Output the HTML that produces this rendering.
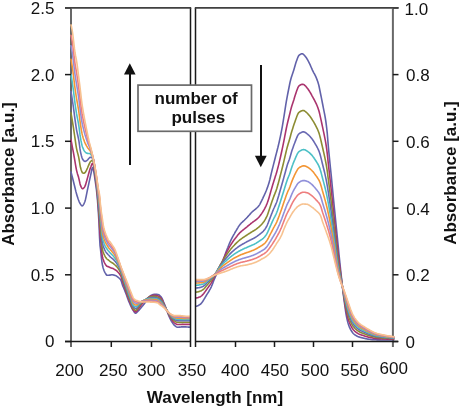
<!DOCTYPE html>
<html><head><meta charset="utf-8"><style>
html,body{margin:0;padding:0;background:#fff;}
body{width:461px;height:408px;overflow:hidden;font-family:"Liberation Sans",sans-serif;}
svg{display:block;will-change:transform;}
text{font-family:"Liberation Sans",sans-serif;}
</style></head><body>
<svg width="461" height="408" viewBox="0 0 461 408">
<g stroke="#686868" stroke-width="2" fill="none">
<path d="M71,8.5 V347"/>
<path d="M392.9,8.5 V347"/>
</g>
<g fill="none" stroke-width="1.6" stroke-linejoin="round" stroke-linecap="round">
<path d="M71.0,172.0 71.5,173.9 72.0,175.9 72.5,177.8 73.0,179.8 73.5,181.7 74.0,183.7 74.5,185.7 75.0,187.8 75.5,189.9 76.0,191.9 76.5,193.7 77.0,195.4 77.5,197.0 78.0,198.6 78.5,200.0 79.0,201.3 79.5,202.5 80.0,203.3 80.5,204.2 81.0,204.9 81.5,205.5 82.0,205.9 82.5,205.8 83.0,205.4 83.5,204.6 84.0,203.6 84.5,202.5 85.0,201.2 85.5,199.4 86.0,197.1 86.5,194.6 87.0,192.1 87.5,189.7 88.0,187.4 88.5,185.1 89.0,182.7 89.5,180.4 90.0,178.1 90.5,175.9 91.0,173.6 91.5,171.0 92.0,168.8 92.5,167.6 93.0,168.2 93.5,170.3 94.0,172.8 94.5,175.9 95.0,179.6 95.5,182.9 96.0,186.3 96.5,190.2 97.0,194.9 97.5,200.4 98.0,207.3 98.5,214.6 99.0,223.0 99.5,236.2 100.0,245.3 100.5,249.1 101.0,254.0 101.5,258.7 102.0,262.3 102.5,265.3 103.0,267.4 103.5,269.1 104.0,270.5 104.5,271.6 105.0,272.6 105.5,273.4 106.0,274.3 106.5,275.0 107.0,275.3 107.5,275.3 108.0,275.3 108.5,275.2 109.0,275.2 109.5,275.1 110.0,275.1 110.5,275.0 111.0,274.9 111.5,274.8 112.0,274.8 112.5,274.8 113.0,274.9 113.5,275.0 114.0,275.1 114.5,275.2 115.0,275.4 115.5,275.6 116.0,275.8 116.5,276.1 117.0,276.4 117.5,276.8 118.0,277.2 118.5,277.6 119.0,278.0 119.5,278.5 120.0,279.0 120.5,279.6 121.0,280.4 121.5,281.8 122.0,283.5 122.5,285.1 123.0,286.4 123.5,287.5 124.0,288.7 124.5,289.8 125.0,291.1 125.5,292.4 126.0,293.7 126.5,295.1 127.0,296.5 127.5,297.9 128.0,299.3 128.5,300.6 129.0,301.9 129.5,303.0 130.0,304.2 130.5,305.3 131.0,306.3 131.5,307.4 132.0,308.4 132.5,309.3 133.0,310.1 133.5,310.9 134.0,311.7 134.5,312.5 135.0,313.0 135.5,313.2 136.0,313.1 136.5,312.7 137.0,312.3 137.5,311.8 138.0,311.2 138.5,310.6 139.0,310.1 139.5,309.6 140.0,309.0 140.5,308.4 141.0,307.8 141.5,307.2 142.0,306.6 142.5,306.0 143.0,305.4 143.5,304.8 144.0,304.2 144.5,303.6 145.0,302.9 145.5,302.1 146.0,301.3 146.5,300.5 147.0,299.7 147.5,299.0 148.0,298.3 148.5,297.7 149.0,297.1 149.5,296.6 150.0,296.2 150.5,295.8 151.0,295.5 151.5,295.2 152.0,294.9 152.5,294.7 153.0,294.6 153.5,294.5 154.0,294.4 154.5,294.4 155.0,294.3 155.5,294.3 156.0,294.3 156.5,294.3 157.0,294.4 157.5,294.5 158.0,294.6 158.5,294.8 159.0,294.9 159.5,295.2 160.0,295.7 160.5,296.2 161.0,296.8 161.5,297.5 162.0,298.3 162.5,299.3 163.0,300.5 163.5,301.8 164.0,303.0 164.5,304.2 165.0,305.6 165.5,306.9 166.0,308.3 166.5,309.7 167.0,311.0 167.5,312.3 168.0,313.6 168.5,314.9 169.0,316.1 169.5,317.3 170.0,318.4 170.5,319.4 171.0,320.4 171.5,321.3 172.0,322.1 172.5,322.9 173.0,323.6 173.5,324.3 174.0,324.9 174.5,325.4 175.0,325.8 175.5,326.2 176.0,326.6 176.5,326.9 177.0,327.1 177.5,327.2 178.0,327.2 178.5,327.2 179.0,327.1 179.5,327.1 180.0,327.1 180.5,327.0 181.0,327.0 181.5,326.9 182.0,326.9 182.5,326.9 183.0,326.9 183.5,326.9 184.0,326.9 184.5,326.9 185.0,326.9 185.5,326.9 186.0,326.9 186.5,327.0 187.0,327.0 187.5,327.0 188.0,327.0 188.5,327.1 189.0,327.1 189.5,327.1 190.0,327.2" stroke="#6262aa"/>
<path d="M71.0,139.8 71.5,142.4 72.0,145.1 72.5,147.8 73.0,150.3 73.5,152.9 74.0,155.8 74.5,158.7 75.0,161.6 75.5,164.6 76.0,167.5 76.5,170.1 77.0,172.1 77.5,173.9 78.0,175.5 78.5,177.1 79.0,179.1 79.5,181.4 80.0,183.7 80.5,185.4 81.0,186.7 81.5,187.6 82.0,188.4 82.5,188.7 83.0,188.6 83.5,188.3 84.0,187.8 84.5,187.1 85.0,186.2 85.5,184.9 86.0,183.3 86.5,181.6 87.0,179.7 87.5,177.9 88.0,176.1 88.5,174.3 89.0,172.5 89.5,170.8 90.0,169.1 90.5,167.8 91.0,166.5 91.5,165.1 92.0,163.8 92.5,163.4 93.0,164.0 93.5,165.6 94.0,168.1 94.5,171.7 95.0,175.7 95.5,179.2 96.0,182.7 96.5,186.5 97.0,191.0 97.5,196.3 98.0,202.4 98.5,208.8 99.0,216.0 99.5,226.0 100.0,233.7 100.5,238.1 101.0,243.0 101.5,248.4 102.0,254.3 102.5,257.3 103.0,259.0 103.5,260.3 104.0,261.6 104.5,262.8 105.0,263.7 105.5,264.5 106.0,265.2 106.5,265.9 107.0,266.3 107.5,266.5 108.0,266.6 108.5,266.8 109.0,267.1 109.5,267.3 110.0,267.6 110.5,267.8 111.0,267.9 111.5,268.1 112.0,268.2 112.5,268.3 113.0,268.5 113.5,268.8 114.0,269.1 114.5,269.4 115.0,269.7 115.5,270.0 116.0,270.3 116.5,270.7 117.0,271.1 117.5,271.6 118.0,272.2 118.5,272.7 119.0,273.3 119.5,274.0 120.0,274.7 120.5,275.5 121.0,276.5 121.5,278.0 122.0,279.7 122.5,281.3 123.0,282.8 123.5,284.3 124.0,285.7 124.5,287.1 125.0,288.5 125.5,290.0 126.0,291.5 126.5,293.0 127.0,294.5 127.5,295.9 128.0,297.3 128.5,298.7 129.0,300.0 129.5,301.2 130.0,302.5 130.5,303.7 131.0,304.9 131.5,306.2 132.0,307.5 132.5,308.6 133.0,309.6 133.5,310.2 134.0,310.8 134.5,311.4 135.0,311.8 135.5,311.9 136.0,311.8 136.5,311.5 137.0,310.9 137.5,310.2 138.0,309.4 138.5,308.7 139.0,308.0 139.5,307.4 140.0,306.7 140.5,306.0 141.0,305.3 141.5,304.7 142.0,304.1 142.5,303.5 143.0,303.0 143.5,302.5 144.0,302.0 144.5,301.5 145.0,301.0 145.5,300.5 146.0,299.9 146.5,299.3 147.0,298.8 147.5,298.3 148.0,297.8 148.5,297.4 149.0,297.0 149.5,296.6 150.0,296.4 150.5,296.2 151.0,296.0 151.5,295.8 152.0,295.7 152.5,295.5 153.0,295.5 153.5,295.4 154.0,295.4 154.5,295.3 155.0,295.3 155.5,295.4 156.0,295.4 156.5,295.5 157.0,295.7 157.5,295.8 158.0,296.0 158.5,296.1 159.0,296.4 159.5,296.7 160.0,297.2 160.5,297.7 161.0,298.3 161.5,299.0 162.0,299.8 162.5,300.7 163.0,301.8 163.5,302.9 164.0,303.9 164.5,305.0 165.0,306.1 165.5,307.3 166.0,308.4 166.5,309.6 167.0,310.7 167.5,311.8 168.0,312.9 168.5,313.9 169.0,315.0 169.5,315.9 170.0,316.9 170.5,317.7 171.0,318.6 171.5,319.4 172.0,320.1 172.5,320.8 173.0,321.4 173.5,322.0 174.0,322.5 174.5,322.9 175.0,323.3 175.5,323.6 176.0,324.0 176.5,324.2 177.0,324.4 177.5,324.5 178.0,324.5 178.5,324.5 179.0,324.5 179.5,324.5 180.0,324.5 180.5,324.5 181.0,324.5 181.5,324.5 182.0,324.4 182.5,324.4 183.0,324.4 183.5,324.4 184.0,324.4 184.5,324.4 185.0,324.4 185.5,324.4 186.0,324.4 186.5,324.4 187.0,324.4 187.5,324.4 188.0,324.4 188.5,324.4 189.0,324.4 189.5,324.4 190.0,324.4" stroke="#aa346e"/>
<path d="M71.0,112.9 71.5,115.9 72.0,118.9 72.5,122.0 73.0,125.0 73.5,128.1 74.0,131.6 74.5,135.0 75.0,138.4 75.5,141.9 76.0,145.3 76.5,148.3 77.0,150.6 77.5,152.6 78.0,154.4 78.5,156.4 79.0,158.8 79.5,161.9 80.0,165.1 80.5,167.6 81.0,169.3 81.5,170.8 82.0,172.0 82.5,172.8 83.0,173.1 83.5,173.3 84.0,173.3 84.5,173.1 85.0,172.7 85.5,172.1 86.0,171.2 86.5,170.2 87.0,169.1 87.5,168.0 88.0,166.8 88.5,165.6 89.0,164.4 89.5,163.3 90.0,162.3 90.5,161.6 91.0,161.2 91.5,160.7 92.0,160.3 92.5,160.4 93.0,161.2 93.5,162.6 94.0,165.1 94.5,168.8 95.0,172.8 95.5,176.4 96.0,179.9 96.5,183.6 97.0,187.9 97.5,193.0 98.0,198.5 98.5,204.0 99.0,210.2 99.5,218.0 100.0,224.7 100.5,229.4 101.0,234.2 101.5,239.9 102.0,246.8 102.5,249.8 103.0,251.5 103.5,252.8 104.0,254.1 104.5,255.3 105.0,256.2 105.5,257.1 106.0,257.8 106.5,258.5 107.0,259.0 107.5,259.4 108.0,259.7 108.5,260.1 109.0,260.5 109.5,261.0 110.0,261.4 110.5,261.8 111.0,262.1 111.5,262.4 112.0,262.7 112.5,263.0 113.0,263.3 113.5,263.6 114.0,264.1 114.5,264.5 115.0,265.0 115.5,265.4 116.0,265.9 116.5,266.4 117.0,266.9 117.5,267.6 118.0,268.2 118.5,269.0 119.0,269.7 119.5,270.6 120.0,271.5 120.5,272.5 121.0,273.7 121.5,275.1 122.0,276.7 122.5,278.4 123.0,280.0 123.5,281.6 124.0,283.1 124.5,284.6 125.0,286.2 125.5,287.7 126.0,289.3 126.5,290.8 127.0,292.3 127.5,293.8 128.0,295.2 128.5,296.6 129.0,297.9 129.5,299.2 130.0,300.5 130.5,301.8 131.0,303.1 131.5,304.6 132.0,306.0 132.5,307.2 133.0,308.2 133.5,308.9 134.0,309.3 134.5,309.8 135.0,310.1 135.5,310.2 136.0,310.2 136.5,309.9 137.0,309.3 137.5,308.6 138.0,307.8 138.5,307.0 139.0,306.3 139.5,305.7 140.0,305.0 140.5,304.3 141.0,303.7 141.5,303.1 142.0,302.5 142.5,302.0 143.0,301.6 143.5,301.2 144.0,300.8 144.5,300.4 145.0,300.0 145.5,299.7 146.0,299.3 146.5,298.9 147.0,298.5 147.5,298.2 148.0,297.9 148.5,297.6 149.0,297.3 149.5,297.1 150.0,297.0 150.5,296.9 151.0,296.8 151.5,296.7 152.0,296.6 152.5,296.5 153.0,296.5 153.5,296.5 154.0,296.4 154.5,296.4 155.0,296.5 155.5,296.5 156.0,296.6 156.5,296.8 157.0,296.9 157.5,297.1 158.0,297.3 158.5,297.5 159.0,297.7 159.5,298.1 160.0,298.6 160.5,299.1 161.0,299.7 161.5,300.4 162.0,301.1 162.5,302.0 163.0,302.9 163.5,303.8 164.0,304.8 164.5,305.7 165.0,306.6 165.5,307.6 166.0,308.6 166.5,309.6 167.0,310.5 167.5,311.4 168.0,312.4 168.5,313.3 169.0,314.1 169.5,315.0 170.0,315.8 170.5,316.5 171.0,317.3 171.5,318.0 172.0,318.6 172.5,319.2 173.0,319.7 173.5,320.1 174.0,320.5 174.5,320.9 175.0,321.3 175.5,321.6 176.0,321.9 176.5,322.1 177.0,322.2 177.5,322.3 178.0,322.3 178.5,322.3 179.0,322.4 179.5,322.4 180.0,322.4 180.5,322.4 181.0,322.4 181.5,322.4 182.0,322.4 182.5,322.4 183.0,322.4 183.5,322.3 184.0,322.3 184.5,322.3 185.0,322.3 185.5,322.3 186.0,322.3 186.5,322.3 187.0,322.3 187.5,322.3 188.0,322.3 188.5,322.3 189.0,322.3 189.5,322.3 190.0,322.3" stroke="#8c8c32"/>
<path d="M71.0,91.6 71.5,94.7 72.0,97.9 72.5,101.2 73.0,104.5 73.5,107.9 74.0,111.7 74.5,115.6 75.0,119.3 75.5,122.9 76.0,126.4 76.5,129.6 77.0,132.1 77.5,134.3 78.0,136.5 78.5,138.8 79.0,141.6 79.5,145.2 80.0,148.9 80.5,151.8 81.0,154.1 81.5,156.0 82.0,157.7 82.5,159.0 83.0,159.8 83.5,160.4 84.0,160.9 84.5,161.3 85.0,161.4 85.5,161.4 86.0,161.1 86.5,160.8 87.0,160.4 87.5,160.0 88.0,159.4 88.5,158.8 89.0,158.3 89.5,157.7 90.0,157.3 90.5,157.3 91.0,157.4 91.5,157.6 92.0,157.8 92.5,158.4 93.0,159.4 93.5,160.9 94.0,163.4 94.5,167.0 95.0,170.9 95.5,174.4 96.0,177.9 96.5,181.5 97.0,185.7 97.5,190.4 98.0,195.4 98.5,200.4 99.0,205.7 99.5,211.8 100.0,217.9 100.5,223.0 101.0,227.7 101.5,233.3 102.0,240.4 102.5,243.4 103.0,245.3 103.5,246.7 104.0,248.1 104.5,249.3 105.0,250.4 105.5,251.3 106.0,252.1 106.5,252.8 107.0,253.4 107.5,253.9 108.0,254.5 108.5,255.0 109.0,255.5 109.5,256.1 110.0,256.6 110.5,257.1 111.0,257.5 111.5,257.9 112.0,258.3 112.5,258.7 113.0,259.1 113.5,259.6 114.0,260.1 114.5,260.7 115.0,261.2 115.5,261.8 116.0,262.4 116.5,263.1 117.0,263.8 117.5,264.5 118.0,265.4 118.5,266.2 119.0,267.2 119.5,268.2 120.0,269.2 120.5,270.4 121.0,271.6 121.5,273.0 122.0,274.6 122.5,276.2 123.0,277.9 123.5,279.5 124.0,281.1 124.5,282.6 125.0,284.2 125.5,285.7 126.0,287.3 126.5,288.8 127.0,290.3 127.5,291.8 128.0,293.2 128.5,294.6 129.0,295.9 129.5,297.2 130.0,298.5 130.5,299.8 131.0,301.2 131.5,302.7 132.0,304.2 132.5,305.5 133.0,306.6 133.5,307.2 134.0,307.6 134.5,308.0 135.0,308.3 135.5,308.5 136.0,308.5 136.5,308.3 137.0,307.8 137.5,307.1 138.0,306.4 138.5,305.6 139.0,305.0 139.5,304.4 140.0,303.9 140.5,303.3 141.0,302.7 141.5,302.2 142.0,301.7 142.5,301.3 143.0,300.9 143.5,300.6 144.0,300.3 144.5,300.0 145.0,299.7 145.5,299.5 146.0,299.2 146.5,299.0 147.0,298.7 147.5,298.5 148.0,298.3 148.5,298.1 149.0,297.9 149.5,297.8 150.0,297.7 150.5,297.7 151.0,297.6 151.5,297.6 152.0,297.6 152.5,297.5 153.0,297.5 153.5,297.5 154.0,297.5 154.5,297.5 155.0,297.6 155.5,297.6 156.0,297.8 156.5,297.9 157.0,298.1 157.5,298.3 158.0,298.5 158.5,298.7 159.0,299.0 159.5,299.4 160.0,299.9 160.5,300.4 161.0,300.9 161.5,301.5 162.0,302.2 162.5,303.0 163.0,303.8 163.5,304.6 164.0,305.4 164.5,306.2 165.0,307.1 165.5,308.0 166.0,308.8 166.5,309.7 167.0,310.5 167.5,311.3 168.0,312.1 168.5,312.9 169.0,313.6 169.5,314.3 170.0,315.0 170.5,315.7 171.0,316.3 171.5,317.0 172.0,317.5 172.5,318.0 173.0,318.4 173.5,318.8 174.0,319.1 174.5,319.5 175.0,319.8 175.5,320.0 176.0,320.3 176.5,320.4 177.0,320.5 177.5,320.6 178.0,320.6 178.5,320.7 179.0,320.7 179.5,320.7 180.0,320.8 180.5,320.8 181.0,320.8 181.5,320.8 182.0,320.8 182.5,320.8 183.0,320.8 183.5,320.8 184.0,320.7 184.5,320.7 185.0,320.7 185.5,320.7 186.0,320.7 186.5,320.7 187.0,320.7 187.5,320.7 188.0,320.7 188.5,320.7 189.0,320.7 189.5,320.7 190.0,320.7" stroke="#6868b2"/>
<path d="M71.0,74.5 71.5,77.5 72.0,80.6 72.5,84.0 73.0,87.5 73.5,91.2 74.0,95.2 74.5,99.3 75.0,103.1 75.5,106.8 76.0,110.2 76.5,113.4 77.0,116.1 77.5,118.6 78.0,121.1 78.5,123.7 79.0,126.8 79.5,130.7 80.0,134.7 80.5,138.0 81.0,140.7 81.5,143.1 82.0,145.3 82.5,147.0 83.0,148.2 83.5,149.3 84.0,150.3 84.5,151.2 85.0,151.8 85.5,152.3 86.0,152.7 86.5,153.0 87.0,153.3 87.5,153.4 88.0,153.5 88.5,153.5 89.0,153.5 89.5,153.5 90.0,153.6 90.5,154.0 91.0,154.7 91.5,155.4 92.0,156.1 92.5,157.1 93.0,158.4 93.5,160.0 94.0,162.5 94.5,165.9 95.0,169.6 95.5,173.0 96.0,176.4 96.5,180.0 97.0,184.0 97.5,188.4 98.0,193.0 98.5,197.5 99.0,202.1 99.5,207.1 100.0,212.6 100.5,218.0 101.0,222.7 101.5,228.0 102.0,234.8 102.5,237.9 103.0,240.0 103.5,241.7 104.0,243.2 104.5,244.5 105.0,245.6 105.5,246.6 106.0,247.5 106.5,248.3 107.0,249.0 107.5,249.7 108.0,250.4 108.5,251.0 109.0,251.6 109.5,252.2 110.0,252.7 110.5,253.3 111.0,253.8 111.5,254.3 112.0,254.8 112.5,255.3 113.0,255.8 113.5,256.3 114.0,256.9 114.5,257.6 115.0,258.2 115.5,259.0 116.0,259.7 116.5,260.5 117.0,261.4 117.5,262.3 118.0,263.2 118.5,264.2 119.0,265.3 119.5,266.4 120.0,267.6 120.5,268.8 121.0,270.1 121.5,271.5 122.0,273.0 122.5,274.6 123.0,276.2 123.5,277.8 124.0,279.4 124.5,280.9 125.0,282.4 125.5,284.0 126.0,285.5 126.5,287.0 127.0,288.5 127.5,289.9 128.0,291.3 128.5,292.7 129.0,294.1 129.5,295.4 130.0,296.7 130.5,298.0 131.0,299.4 131.5,300.9 132.0,302.4 132.5,303.8 133.0,304.8 133.5,305.5 134.0,305.9 134.5,306.3 135.0,306.5 135.5,306.7 136.0,306.8 136.5,306.7 137.0,306.3 137.5,305.7 138.0,305.1 138.5,304.5 139.0,304.0 139.5,303.5 140.0,303.1 140.5,302.6 141.0,302.1 141.5,301.7 142.0,301.3 142.5,301.0 143.0,300.7 143.5,300.5 144.0,300.2 144.5,300.0 145.0,299.8 145.5,299.7 146.0,299.5 146.5,299.3 147.0,299.2 147.5,299.0 148.0,298.8 148.5,298.7 149.0,298.6 149.5,298.5 150.0,298.5 150.5,298.5 151.0,298.5 151.5,298.5 152.0,298.5 152.5,298.5 153.0,298.5 153.5,298.5 154.0,298.5 154.5,298.5 155.0,298.6 155.5,298.7 156.0,298.8 156.5,299.0 157.0,299.1 157.5,299.3 158.0,299.5 158.5,299.8 159.0,300.1 159.5,300.5 160.0,301.0 160.5,301.5 161.0,302.0 161.5,302.6 162.0,303.2 162.5,303.9 163.0,304.6 163.5,305.3 164.0,306.0 164.5,306.7 165.0,307.5 165.5,308.2 166.0,309.0 166.5,309.8 167.0,310.5 167.5,311.2 168.0,311.9 168.5,312.6 169.0,313.3 169.5,313.9 170.0,314.5 170.5,315.1 171.0,315.7 171.5,316.2 172.0,316.7 172.5,317.1 173.0,317.5 173.5,317.8 174.0,318.1 174.5,318.4 175.0,318.6 175.5,318.8 176.0,319.0 176.5,319.1 177.0,319.2 177.5,319.2 178.0,319.3 178.5,319.3 179.0,319.4 179.5,319.4 180.0,319.4 180.5,319.4 181.0,319.5 181.5,319.5 182.0,319.5 182.5,319.5 183.0,319.5 183.5,319.5 184.0,319.5 184.5,319.5 185.0,319.5 185.5,319.5 186.0,319.5 186.5,319.5 187.0,319.5 187.5,319.5 188.0,319.5 188.5,319.5 189.0,319.5 189.5,319.5 190.0,319.5" stroke="#4cc0c6"/>
<path d="M71.0,59.2 71.5,62.0 72.0,65.1 72.5,68.4 73.0,72.0 73.5,75.9 74.0,80.1 74.5,84.3 75.0,88.2 75.5,91.7 76.0,95.0 76.5,98.1 77.0,101.0 77.5,103.8 78.0,106.6 78.5,109.6 79.0,113.0 79.5,117.0 80.0,121.1 80.5,124.7 81.0,127.9 81.5,130.8 82.0,133.4 82.5,135.5 83.0,137.3 83.5,138.9 84.0,140.3 84.5,141.7 85.0,142.9 85.5,144.0 86.0,144.9 86.5,145.9 87.0,146.7 87.5,147.5 88.0,148.2 88.5,148.8 89.0,149.4 89.5,150.0 90.0,150.6 90.5,151.4 91.0,152.5 91.5,153.6 92.0,154.8 92.5,156.2 93.0,157.8 93.5,159.6 94.0,162.0 94.5,165.2 95.0,168.6 95.5,171.9 96.0,175.2 96.5,178.7 97.0,182.5 97.5,186.7 98.0,190.9 98.5,194.9 99.0,198.9 99.5,203.0 100.0,208.2 100.5,213.8 101.0,218.4 101.5,223.4 102.0,229.5 102.5,232.6 103.0,235.1 103.5,237.1 104.0,238.8 104.5,240.1 105.0,241.3 105.5,242.4 106.0,243.4 106.5,244.3 107.0,245.2 107.5,246.0 108.0,246.8 108.5,247.5 109.0,248.2 109.5,248.8 110.0,249.3 110.5,249.9 111.0,250.5 111.5,251.1 112.0,251.7 112.5,252.3 113.0,252.8 113.5,253.4 114.0,254.1 114.5,254.8 115.0,255.6 115.5,256.4 116.0,257.4 116.5,258.3 117.0,259.3 117.5,260.3 118.0,261.4 118.5,262.6 119.0,263.8 119.5,265.0 120.0,266.3 120.5,267.6 121.0,268.9 121.5,270.3 122.0,271.7 122.5,273.3 123.0,274.8 123.5,276.3 124.0,277.9 124.5,279.3 125.0,280.8 125.5,282.3 126.0,283.8 126.5,285.2 127.0,286.6 127.5,288.1 128.0,289.4 128.5,290.8 129.0,292.2 129.5,293.5 130.0,294.8 130.5,296.1 131.0,297.5 131.5,299.0 132.0,300.5 132.5,301.8 133.0,302.9 133.5,303.6 134.0,304.1 134.5,304.4 135.0,304.7 135.5,304.9 136.0,305.1 136.5,305.0 137.0,304.8 137.5,304.4 138.0,303.9 138.5,303.5 139.0,303.1 139.5,302.8 140.0,302.5 140.5,302.1 141.0,301.8 141.5,301.5 142.0,301.2 142.5,301.0 143.0,300.8 143.5,300.6 144.0,300.5 144.5,300.3 145.0,300.2 145.5,300.1 146.0,300.0 146.5,299.9 147.0,299.8 147.5,299.7 148.0,299.6 148.5,299.5 149.0,299.4 149.5,299.4 150.0,299.4 150.5,299.4 151.0,299.4 151.5,299.5 152.0,299.5 152.5,299.5 153.0,299.5 153.5,299.5 154.0,299.5 154.5,299.5 155.0,299.6 155.5,299.7 156.0,299.8 156.5,300.0 157.0,300.1 157.5,300.3 158.0,300.5 158.5,300.8 159.0,301.2 159.5,301.6 160.0,302.1 160.5,302.5 161.0,303.0 161.5,303.5 162.0,304.0 162.5,304.6 163.0,305.3 163.5,305.9 164.0,306.5 164.5,307.2 165.0,307.9 165.5,308.5 166.0,309.2 166.5,309.9 167.0,310.6 167.5,311.2 168.0,311.8 168.5,312.4 169.0,313.0 169.5,313.6 170.0,314.1 170.5,314.6 171.0,315.1 171.5,315.6 172.0,316.0 172.5,316.4 173.0,316.7 173.5,317.0 174.0,317.2 174.5,317.4 175.0,317.6 175.5,317.8 176.0,317.9 176.5,318.0 177.0,318.1 177.5,318.1 178.0,318.1 178.5,318.2 179.0,318.2 179.5,318.2 180.0,318.2 180.5,318.3 181.0,318.3 181.5,318.3 182.0,318.3 182.5,318.4 183.0,318.4 183.5,318.4 184.0,318.4 184.5,318.4 185.0,318.4 185.5,318.4 186.0,318.4 186.5,318.4 187.0,318.5 187.5,318.5 188.0,318.5 188.5,318.5 189.0,318.5 189.5,318.5 190.0,318.5" stroke="#f39634"/>
<path d="M71.0,45.7 71.5,48.3 72.0,51.2 72.5,54.4 73.0,58.1 73.5,62.1 74.0,66.4 74.5,70.7 75.0,74.5 75.5,77.9 76.0,80.9 76.5,83.9 77.0,86.9 77.5,90.0 78.0,93.2 78.5,96.6 79.0,100.2 79.5,104.2 80.0,108.4 80.5,112.2 81.0,115.8 81.5,119.3 82.0,122.3 82.5,124.9 83.0,127.1 83.5,129.1 84.0,131.1 84.5,132.9 85.0,134.7 85.5,136.3 86.0,137.8 86.5,139.4 87.0,140.8 87.5,142.3 88.0,143.6 88.5,144.8 89.0,146.0 89.5,147.0 90.0,148.1 90.5,149.4 91.0,150.8 91.5,152.3 92.0,153.9 92.5,155.6 93.0,157.5 93.5,159.5 94.0,161.9 94.5,164.8 95.0,167.9 95.5,171.0 96.0,174.2 96.5,177.7 97.0,181.3 97.5,185.2 98.0,189.1 98.5,192.7 99.0,196.1 99.5,199.5 100.0,204.4 100.5,210.3 101.0,214.9 101.5,219.3 102.0,224.5 102.5,227.7 103.0,230.6 103.5,233.0 104.0,234.8 104.5,236.3 105.0,237.6 105.5,238.8 106.0,239.9 106.5,240.9 107.0,241.9 107.5,242.9 108.0,243.8 108.5,244.6 109.0,245.2 109.5,245.8 110.0,246.4 110.5,247.0 111.0,247.6 111.5,248.3 112.0,248.9 112.5,249.6 113.0,250.2 113.5,250.9 114.0,251.6 114.5,252.4 115.0,253.2 115.5,254.2 116.0,255.3 116.5,256.4 117.0,257.6 117.5,258.7 118.0,260.0 118.5,261.2 119.0,262.6 119.5,263.9 120.0,265.3 120.5,266.6 121.0,268.0 121.5,269.3 122.0,270.7 122.5,272.1 123.0,273.6 123.5,275.0 124.0,276.5 124.5,277.9 125.0,279.3 125.5,280.7 126.0,282.1 126.5,283.5 127.0,284.9 127.5,286.3 128.0,287.6 128.5,289.0 129.0,290.3 129.5,291.7 130.0,293.0 130.5,294.3 131.0,295.6 131.5,297.1 132.0,298.5 132.5,299.8 133.0,300.9 133.5,301.7 134.0,302.2 134.5,302.6 135.0,302.9 135.5,303.1 136.0,303.3 136.5,303.4 137.0,303.3 137.5,303.1 138.0,302.8 138.5,302.6 139.0,302.4 139.5,302.2 140.0,302.0 140.5,301.8 141.0,301.7 141.5,301.5 142.0,301.3 142.5,301.2 143.0,301.1 143.5,301.0 144.0,300.9 144.5,300.8 145.0,300.7 145.5,300.7 146.0,300.6 146.5,300.6 147.0,300.5 147.5,300.4 148.0,300.4 148.5,300.3 149.0,300.3 149.5,300.3 150.0,300.3 150.5,300.3 151.0,300.4 151.5,300.4 152.0,300.4 152.5,300.5 153.0,300.5 153.5,300.5 154.0,300.5 154.5,300.6 155.0,300.6 155.5,300.7 156.0,300.8 156.5,300.9 157.0,301.1 157.5,301.2 158.0,301.4 158.5,301.8 159.0,302.2 159.5,302.6 160.0,303.1 160.5,303.5 161.0,303.9 161.5,304.4 162.0,304.8 162.5,305.4 163.0,305.9 163.5,306.4 164.0,307.0 164.5,307.6 165.0,308.2 165.5,308.8 166.0,309.4 166.5,310.0 167.0,310.6 167.5,311.2 168.0,311.8 168.5,312.4 169.0,312.9 169.5,313.4 170.0,313.8 170.5,314.3 171.0,314.7 171.5,315.1 172.0,315.5 172.5,315.8 173.0,316.1 173.5,316.3 174.0,316.5 174.5,316.7 175.0,316.8 175.5,316.9 176.0,317.0 176.5,317.0 177.0,317.1 177.5,317.1 178.0,317.1 178.5,317.1 179.0,317.2 179.5,317.2 180.0,317.2 180.5,317.2 181.0,317.3 181.5,317.3 182.0,317.3 182.5,317.4 183.0,317.4 183.5,317.4 184.0,317.5 184.5,317.5 185.0,317.5 185.5,317.5 186.0,317.5 186.5,317.6 187.0,317.6 187.5,317.6 188.0,317.6 188.5,317.6 189.0,317.6 189.5,317.6 190.0,317.6" stroke="#9090da"/>
<path d="M71.0,35.2 71.5,37.5 72.0,40.2 72.5,43.3 73.0,47.0 73.5,51.2 74.0,55.5 74.5,59.8 75.0,63.6 75.5,66.7 76.0,69.5 76.5,72.3 77.0,75.4 77.5,78.8 78.0,82.4 78.5,86.0 79.0,89.8 79.5,93.8 80.0,98.0 80.5,101.9 81.0,105.9 81.5,109.8 82.0,113.2 82.5,116.1 83.0,118.7 83.5,121.2 84.0,123.5 84.5,125.8 85.0,128.0 85.5,130.1 86.0,132.2 86.5,134.2 87.0,136.2 87.5,138.1 88.0,140.0 88.5,141.7 89.0,143.4 89.5,144.9 90.0,146.3 90.5,147.9 91.0,149.6 91.5,151.4 92.0,153.3 92.5,155.3 93.0,157.5 93.5,159.6 94.0,162.0 94.5,164.7 95.0,167.5 95.5,170.3 96.0,173.5 96.5,176.9 97.0,180.4 97.5,184.1 98.0,187.7 98.5,191.0 99.0,193.9 99.5,196.8 100.0,201.7 100.5,207.7 101.0,212.2 101.5,216.2 102.0,220.4 102.5,223.6 103.0,226.9 103.5,229.7 104.0,231.7 104.5,233.3 105.0,234.7 105.5,236.0 106.0,237.2 106.5,238.3 107.0,239.4 107.5,240.5 108.0,241.5 108.5,242.3 109.0,243.0 109.5,243.5 110.0,244.0 110.5,244.7 111.0,245.4 111.5,246.1 112.0,246.8 112.5,247.5 113.0,248.2 113.5,248.9 114.0,249.6 114.5,250.5 115.0,251.4 115.5,252.5 116.0,253.7 116.5,255.0 117.0,256.3 117.5,257.6 118.0,258.9 118.5,260.3 119.0,261.7 119.5,263.1 120.0,264.6 120.5,266.0 121.0,267.3 121.5,268.7 122.0,270.0 122.5,271.3 123.0,272.7 123.5,274.0 124.0,275.4 124.5,276.7 125.0,278.1 125.5,279.4 126.0,280.7 126.5,282.1 127.0,283.4 127.5,284.7 128.0,286.1 128.5,287.4 129.0,288.8 129.5,290.1 130.0,291.4 130.5,292.7 131.0,294.0 131.5,295.4 132.0,296.8 132.5,298.1 133.0,299.2 133.5,300.0 134.0,300.6 134.5,300.9 135.0,301.3 135.5,301.6 136.0,301.8 136.5,301.9 137.0,302.0 137.5,302.0 138.0,301.9 138.5,301.9 139.0,301.8 139.5,301.8 140.0,301.7 140.5,301.7 141.0,301.7 141.5,301.6 142.0,301.6 142.5,301.5 143.0,301.5 143.5,301.4 144.0,301.4 144.5,301.3 145.0,301.3 145.5,301.3 146.0,301.2 146.5,301.2 147.0,301.2 147.5,301.2 148.0,301.1 148.5,301.1 149.0,301.1 149.5,301.1 150.0,301.1 150.5,301.2 151.0,301.2 151.5,301.2 152.0,301.3 152.5,301.3 153.0,301.3 153.5,301.3 154.0,301.4 154.5,301.4 155.0,301.5 155.5,301.6 156.0,301.6 156.5,301.7 157.0,301.9 157.5,302.0 158.0,302.2 158.5,302.6 159.0,303.0 159.5,303.5 160.0,303.9 160.5,304.3 161.0,304.7 161.5,305.1 162.0,305.5 162.5,305.9 163.0,306.4 163.5,306.9 164.0,307.4 164.5,307.9 165.0,308.5 165.5,309.1 166.0,309.6 166.5,310.2 167.0,310.7 167.5,311.3 168.0,311.8 168.5,312.3 169.0,312.8 169.5,313.2 170.0,313.7 170.5,314.0 171.0,314.4 171.5,314.8 172.0,315.1 172.5,315.3 173.0,315.6 173.5,315.8 174.0,316.0 174.5,316.1 175.0,316.2 175.5,316.2 176.0,316.3 176.5,316.3 177.0,316.3 177.5,316.3 178.0,316.3 178.5,316.4 179.0,316.4 179.5,316.4 180.0,316.4 180.5,316.4 181.0,316.5 181.5,316.5 182.0,316.6 182.5,316.6 183.0,316.7 183.5,316.7 184.0,316.8 184.5,316.8 185.0,316.8 185.5,316.8 186.0,316.9 186.5,316.9 187.0,316.9 187.5,316.9 188.0,316.9 188.5,316.9 189.0,317.0 189.5,317.0 190.0,317.0" stroke="#ee7e7e"/>
<path d="M71.0,24.9 71.5,26.8 72.0,29.4 72.5,32.3 73.0,36.0 73.5,40.3 74.0,44.6 74.5,48.9 75.0,52.5 75.5,55.4 76.0,57.9 76.5,60.5 77.0,63.7 77.5,67.4 78.0,71.3 78.5,75.3 79.0,79.3 79.5,83.2 80.0,87.2 80.5,91.3 81.0,95.7 81.5,100.1 82.0,103.9 82.5,107.2 83.0,110.2 83.5,113.1 84.0,115.8 84.5,118.6 85.0,121.3 85.5,123.9 86.0,126.5 86.5,129.0 87.0,131.5 87.5,134.0 88.0,136.4 88.5,138.8 89.0,140.9 89.5,142.9 90.0,144.7 90.5,146.6 91.0,148.5 91.5,150.6 92.0,152.8 92.5,155.1 93.0,157.6 93.5,160.0 94.0,162.3 94.5,164.7 95.0,167.1 95.5,169.8 96.0,172.9 96.5,176.2 97.0,179.6 97.5,183.0 98.0,186.3 98.5,189.4 99.0,191.8 99.5,194.3 100.0,199.0 100.5,205.3 101.0,209.7 101.5,213.2 102.0,216.3 102.5,219.5 103.0,223.3 103.5,226.5 104.0,228.6 104.5,230.3 105.0,231.8 105.5,233.2 106.0,234.6 106.5,235.8 107.0,237.0 107.5,238.2 108.0,239.3 108.5,240.2 109.0,240.8 109.5,241.3 110.0,241.8 110.5,242.4 111.0,243.2 111.5,243.9 112.0,244.7 112.5,245.4 113.0,246.2 113.5,246.9 114.0,247.7 114.5,248.6 115.0,249.6 115.5,250.8 116.0,252.2 116.5,253.6 117.0,255.1 117.5,256.5 118.0,257.9 118.5,259.4 119.0,260.9 119.5,262.4 120.0,263.9 120.5,265.4 121.0,266.7 121.5,268.1 122.0,269.3 122.5,270.6 123.0,271.8 123.5,273.1 124.0,274.3 124.5,275.6 125.0,276.8 125.5,278.1 126.0,279.3 126.5,280.6 127.0,281.9 127.5,283.1 128.0,284.4 128.5,285.8 129.0,287.1 129.5,288.5 130.0,289.8 130.5,291.0 131.0,292.3 131.5,293.6 132.0,294.9 132.5,296.1 133.0,297.3 133.5,298.2 134.0,298.8 134.5,299.2 135.0,299.6 135.5,299.9 136.0,300.2 136.5,300.4 137.0,300.6 137.5,300.8 138.0,301.0 138.5,301.1 139.0,301.3 139.5,301.4 140.0,301.5 140.5,301.6 141.0,301.7 141.5,301.8 142.0,301.9 142.5,302.0 143.0,302.0 143.5,302.0 144.0,302.0 144.5,302.0 145.0,302.0 145.5,302.0 146.0,302.0 146.5,302.0 147.0,302.0 147.5,302.0 148.0,302.0 148.5,302.0 149.0,302.0 149.5,302.0 150.0,302.0 150.5,302.1 151.0,302.1 151.5,302.1 152.0,302.1 152.5,302.2 153.0,302.2 153.5,302.2 154.0,302.3 154.5,302.3 155.0,302.4 155.5,302.4 156.0,302.5 156.5,302.6 157.0,302.7 157.5,302.8 158.0,303.0 158.5,303.4 159.0,303.9 159.5,304.4 160.0,304.8 160.5,305.2 161.0,305.5 161.5,305.8 162.0,306.1 162.5,306.5 163.0,306.9 163.5,307.3 164.0,307.8 164.5,308.3 165.0,308.8 165.5,309.3 166.0,309.8 166.5,310.3 167.0,310.8 167.5,311.4 168.0,311.9 168.5,312.3 169.0,312.8 169.5,313.1 170.0,313.5 170.5,313.9 171.0,314.2 171.5,314.5 172.0,314.7 172.5,314.9 173.0,315.2 173.5,315.4 174.0,315.5 174.5,315.6 175.0,315.6 175.5,315.6 176.0,315.6 176.5,315.6 177.0,315.6 177.5,315.6 178.0,315.6 178.5,315.6 179.0,315.6 179.5,315.6 180.0,315.6 180.5,315.6 181.0,315.7 181.5,315.7 182.0,315.8 182.5,315.9 183.0,315.9 183.5,316.0 184.0,316.1 184.5,316.1 185.0,316.1 185.5,316.2 186.0,316.2 186.5,316.2 187.0,316.3 187.5,316.3 188.0,316.3 188.5,316.3 189.0,316.4 189.5,316.4 190.0,316.4" stroke="#f7c290"/>
<path d="M195.8,306.2 196.3,306.2 196.8,306.1 197.3,305.9 197.8,305.7 198.3,305.5 198.8,305.2 199.3,304.9 199.8,304.6 200.3,304.3 200.8,303.9 201.3,303.3 201.8,302.7 202.3,302.1 202.8,301.3 203.3,300.5 203.8,299.7 204.3,298.8 204.8,298.0 205.3,297.1 205.8,296.3 206.3,295.5 206.8,294.7 207.3,293.9 207.8,293.1 208.3,292.3 208.8,291.5 209.3,290.6 209.8,289.7 210.3,288.8 210.8,287.8 211.3,286.8 211.8,285.6 212.3,284.4 212.8,283.1 213.3,281.8 213.8,280.5 214.3,279.3 214.8,278.1 215.3,276.9 215.8,275.8 216.3,274.7 216.8,273.6 217.3,272.5 217.8,271.4 218.3,270.4 218.8,269.4 219.3,268.4 219.8,267.4 220.3,266.5 220.8,265.5 221.3,264.5 221.8,263.4 222.3,262.3 222.8,261.0 223.3,259.7 223.8,258.3 224.3,256.9 224.8,255.4 225.3,254.0 225.8,252.6 226.3,251.3 226.8,250.0 227.3,248.7 227.8,247.5 228.3,246.2 228.8,245.0 229.3,243.8 229.8,242.6 230.3,241.5 230.8,240.4 231.3,239.4 231.8,238.4 232.3,237.4 232.8,236.5 233.3,235.5 233.8,234.6 234.3,233.8 234.8,232.9 235.3,232.0 235.8,231.2 236.3,230.3 236.8,229.5 237.3,228.6 237.8,227.8 238.3,226.9 238.8,226.2 239.3,225.4 239.8,224.8 240.3,224.1 240.8,223.6 241.3,223.0 241.8,222.5 242.3,222.1 242.8,221.6 243.3,221.2 243.8,220.7 244.3,220.3 244.8,219.8 245.3,219.3 245.8,218.8 246.3,218.3 246.8,217.7 247.3,217.2 247.8,216.6 248.3,216.1 248.8,215.5 249.3,215.0 249.8,214.4 250.3,213.9 250.8,213.3 251.3,212.8 251.8,212.3 252.3,211.8 252.8,211.3 253.3,210.9 253.8,210.5 254.3,210.1 254.8,209.7 255.3,209.3 255.8,208.9 256.3,208.4 256.8,208.0 257.3,207.5 257.8,207.0 258.3,206.4 258.8,205.8 259.3,205.1 259.8,204.3 260.3,203.4 260.8,202.4 261.3,201.4 261.8,200.4 262.3,199.3 262.8,198.3 263.3,197.2 263.8,196.2 264.3,195.1 264.8,194.0 265.3,192.9 265.8,191.7 266.3,190.5 266.8,189.2 267.3,187.9 267.8,186.5 268.3,185.0 268.8,183.4 269.3,181.7 269.8,179.9 270.3,177.7 270.8,175.5 271.3,173.4 271.8,171.4 272.3,169.3 272.8,167.4 273.3,165.4 273.8,163.4 274.3,161.5 274.8,159.5 275.3,157.5 275.8,155.5 276.3,153.6 276.8,151.7 277.3,149.7 277.8,147.8 278.3,145.7 278.8,143.6 279.3,141.5 279.8,139.2 280.3,136.8 280.8,134.4 281.3,131.9 281.8,129.3 282.3,126.6 282.8,123.7 283.3,120.7 283.8,117.5 284.3,114.3 284.8,111.1 285.3,107.9 285.8,104.6 286.3,101.6 286.8,98.8 287.3,96.1 287.8,93.5 288.3,91.0 288.8,88.5 289.3,86.0 289.8,83.5 290.3,81.2 290.8,79.3 291.3,77.6 291.8,76.0 292.3,74.6 292.8,73.1 293.3,71.6 293.8,70.0 294.3,68.3 294.8,66.5 295.3,64.7 295.8,63.1 296.3,61.6 296.8,60.2 297.3,58.8 297.8,57.5 298.3,56.4 298.8,55.5 299.3,55.0 299.8,54.7 300.3,54.4 300.8,54.1 301.3,53.9 301.8,53.8 302.3,53.8 302.8,53.9 303.3,54.3 303.8,54.7 304.3,55.2 304.8,55.8 305.3,56.4 305.8,57.0 306.3,57.7 306.8,58.5 307.3,59.3 307.8,60.2 308.3,61.2 308.8,62.1 309.3,63.1 309.8,64.1 310.3,65.2 310.8,66.4 311.3,67.5 311.8,68.7 312.3,69.8 312.8,70.8 313.3,71.8 313.8,72.8 314.3,73.7 314.8,74.7 315.3,75.7 315.8,76.7 316.3,77.8 316.8,79.1 317.3,80.4 317.8,81.8 318.3,83.4 318.8,85.3 319.3,87.5 319.8,90.0 320.3,92.5 320.8,95.0 321.3,97.4 321.8,99.9 322.3,102.5 322.8,105.0 323.3,107.6 323.8,110.1 324.3,112.6 324.8,115.2 325.3,118.0 325.8,121.2 326.3,124.8 326.8,129.0 327.3,133.7 327.8,140.0 328.3,146.1 328.8,151.5 329.3,156.6 329.8,161.6 330.3,166.5 330.8,171.3 331.3,176.2 331.8,181.3 332.3,186.5 332.8,191.8 333.3,197.0 333.8,202.1 334.3,207.1 334.8,212.0 335.3,217.0 335.8,222.0 336.3,227.0 336.8,232.1 337.3,237.1 337.8,242.1 338.3,247.2 338.8,252.3 339.3,257.3 339.8,262.2 340.3,266.9 340.8,271.6 341.3,276.2 341.8,280.8 342.3,285.4 342.8,289.8 343.3,294.1 343.8,298.1 344.3,301.9 344.8,305.6 345.3,309.2 345.8,312.6 346.3,315.5 346.8,318.0 347.3,320.3 347.8,322.3 348.3,324.0 348.8,325.4 349.3,326.8 349.8,327.9 350.3,329.0 350.8,329.9 351.3,330.8 351.8,331.5 352.3,332.2 352.8,332.9 353.3,333.5 353.8,334.0 354.3,334.4 354.8,334.8 355.3,335.1 355.8,335.4 356.3,335.7 356.8,336.0 357.3,336.2 357.8,336.5 358.3,336.7 358.8,336.9 359.3,337.0 359.8,337.2 360.3,337.4 360.8,337.5 361.3,337.6 361.8,337.8 362.3,337.9 362.8,338.0 363.3,338.1 363.8,338.2 364.3,338.3 364.8,338.5 365.3,338.6 365.8,338.7 366.3,338.8 366.8,338.9 367.3,339.0 367.8,339.1 368.3,339.1 368.8,339.2 369.3,339.3 369.8,339.3 370.3,339.4 370.8,339.5 371.3,339.5 371.8,339.6 372.3,339.6 372.8,339.7 373.3,339.7 373.8,339.7 374.3,339.8 374.8,339.8 375.3,339.8 375.8,339.8 376.3,339.8 376.8,339.9 377.3,339.9 377.8,339.9 378.3,339.9 378.8,339.9 379.3,339.9 379.8,339.9 380.3,339.9 380.8,340.0 381.3,340.0 381.8,340.0 382.3,340.0 382.8,340.0 383.3,340.0 383.8,340.0 384.3,340.0 384.8,340.0 385.3,340.0 385.8,340.0 386.3,340.0 386.8,340.0 387.3,340.0 387.8,340.0 388.3,340.0 388.8,339.9 389.3,339.9 389.8,339.9 390.3,339.9 390.8,339.9 391.3,339.9 391.8,339.8 392.3,339.8 392.8,339.8 393.3,339.8 393.8,339.7" stroke="#6262aa"/>
<path d="M195.8,298.0 196.3,298.0 196.8,297.9 197.3,297.8 197.8,297.7 198.3,297.5 198.8,297.3 199.3,297.1 199.8,296.9 200.3,296.7 200.8,296.4 201.3,296.0 201.8,295.6 202.3,295.1 202.8,294.7 203.3,294.1 203.8,293.5 204.3,292.8 204.8,292.1 205.3,291.4 205.8,290.7 206.3,290.0 206.8,289.3 207.3,288.6 207.8,287.9 208.3,287.2 208.8,286.5 209.3,285.8 209.8,285.1 210.3,284.3 210.8,283.6 211.3,282.8 211.8,281.9 212.3,281.0 212.8,280.0 213.3,279.0 213.8,278.0 214.3,277.0 214.8,276.1 215.3,275.1 215.8,274.1 216.3,273.1 216.8,272.0 217.3,271.0 217.8,270.0 218.3,268.9 218.8,268.0 219.3,267.0 219.8,266.0 220.3,265.1 220.8,264.2 221.3,263.3 221.8,262.3 222.3,261.4 222.8,260.4 223.3,259.3 223.8,258.2 224.3,257.2 224.8,256.1 225.3,255.0 225.8,253.9 226.3,252.9 226.8,252.0 227.3,251.0 227.8,250.1 228.3,249.1 228.8,248.2 229.3,247.3 229.8,246.4 230.3,245.6 230.8,244.8 231.3,244.0 231.8,243.2 232.3,242.5 232.8,241.7 233.3,241.0 233.8,240.3 234.3,239.6 234.8,239.0 235.3,238.3 235.8,237.7 236.3,237.0 236.8,236.4 237.3,235.7 237.8,235.1 238.3,234.5 238.8,233.9 239.3,233.4 239.8,232.8 240.3,232.3 240.8,231.9 241.3,231.4 241.8,231.0 242.3,230.6 242.8,230.2 243.3,229.8 243.8,229.4 244.3,229.0 244.8,228.6 245.3,228.2 245.8,227.8 246.3,227.4 246.8,227.0 247.3,226.6 247.8,226.1 248.3,225.7 248.8,225.3 249.3,224.9 249.8,224.5 250.3,224.1 250.8,223.6 251.3,223.2 251.8,222.9 252.3,222.5 252.8,222.1 253.3,221.7 253.8,221.4 254.3,221.0 254.8,220.7 255.3,220.3 255.8,220.0 256.3,219.6 256.8,219.2 257.3,218.7 257.8,218.3 258.3,217.8 258.8,217.3 259.3,216.7 259.8,216.1 260.3,215.5 260.8,214.8 261.3,214.1 261.8,213.4 262.3,212.6 262.8,211.8 263.3,211.0 263.8,210.2 264.3,209.3 264.8,208.4 265.3,207.4 265.8,206.4 266.3,205.3 266.8,204.1 267.3,202.8 267.8,201.4 268.3,199.9 268.8,198.4 269.3,196.8 269.8,195.1 270.3,193.3 270.8,191.4 271.3,189.6 271.8,187.9 272.3,186.2 272.8,184.5 273.3,182.9 273.8,181.3 274.3,179.7 274.8,178.2 275.3,176.6 275.8,175.1 276.3,173.4 276.8,171.7 277.3,169.9 277.8,168.0 278.3,166.1 278.8,164.1 279.3,162.0 279.8,159.9 280.3,157.7 280.8,155.5 281.3,153.3 281.8,151.0 282.3,148.7 282.8,146.4 283.3,143.9 283.8,141.4 284.3,138.8 284.8,136.2 285.3,133.6 285.8,131.0 286.3,128.5 286.8,126.1 287.3,123.9 287.8,121.8 288.3,119.8 288.8,117.8 289.3,115.8 289.8,113.7 290.3,111.6 290.8,109.6 291.3,107.8 291.8,106.1 292.3,104.6 292.8,103.0 293.3,101.4 293.8,99.9 294.3,98.2 294.8,96.6 295.3,95.0 295.8,93.4 296.3,91.9 296.8,90.5 297.3,89.2 297.8,87.9 298.3,86.9 298.8,86.1 299.3,85.7 299.8,85.3 300.3,85.0 300.8,84.7 301.3,84.5 301.8,84.4 302.3,84.2 302.8,84.2 303.3,84.4 303.8,84.6 304.3,84.9 304.8,85.4 305.3,85.8 305.8,86.3 306.3,86.9 306.8,87.5 307.3,88.2 307.8,88.8 308.3,89.5 308.8,90.3 309.3,91.0 309.8,91.8 310.3,92.6 310.8,93.5 311.3,94.4 311.8,95.4 312.3,96.3 312.8,97.2 313.3,98.1 313.8,99.0 314.3,99.9 314.8,100.9 315.3,101.9 315.8,102.9 316.3,103.9 316.8,105.0 317.3,106.2 317.8,107.5 318.3,108.9 318.8,110.5 319.3,112.3 319.8,114.4 320.3,116.7 320.8,118.9 321.3,121.2 321.8,123.5 322.3,125.9 322.8,128.2 323.3,130.6 323.8,132.9 324.3,135.3 324.8,137.8 325.3,140.4 325.8,143.2 326.3,146.4 326.8,149.9 327.3,153.9 327.8,158.7 328.3,163.6 328.8,168.2 329.3,172.6 329.8,177.0 330.3,181.5 330.8,185.9 331.3,190.4 331.8,195.0 332.3,199.8 332.8,204.6 333.3,209.4 333.8,214.1 334.3,218.8 334.8,223.4 335.3,228.0 335.8,232.7 336.3,237.3 336.8,242.0 337.3,246.6 337.8,251.1 338.3,255.3 338.8,259.4 339.3,263.4 339.8,267.2 340.3,270.9 340.8,274.6 341.3,278.2 341.8,281.8 342.3,285.5 342.8,289.3 343.3,292.9 343.8,296.3 344.3,299.6 344.8,302.8 345.3,306.0 345.8,309.0 346.3,311.5 346.8,313.8 347.3,316.0 347.8,317.9 348.3,319.5 348.8,321.0 349.3,322.3 349.8,323.5 350.3,324.7 350.8,325.7 351.3,326.6 351.8,327.5 352.3,328.3 352.8,329.0 353.3,329.7 353.8,330.3 354.3,330.8 354.8,331.3 355.3,331.7 355.8,332.1 356.3,332.5 356.8,332.8 357.3,333.1 357.8,333.4 358.3,333.7 358.8,333.9 359.3,334.2 359.8,334.4 360.3,334.6 360.8,334.8 361.3,335.0 361.8,335.1 362.3,335.3 362.8,335.4 363.3,335.6 363.8,335.8 364.3,335.9 364.8,336.1 365.3,336.2 365.8,336.4 366.3,336.5 366.8,336.7 367.3,336.8 367.8,337.0 368.3,337.1 368.8,337.2 369.3,337.3 369.8,337.4 370.3,337.5 370.8,337.6 371.3,337.7 371.8,337.8 372.3,337.9 372.8,338.0 373.3,338.1 373.8,338.2 374.3,338.2 374.8,338.3 375.3,338.4 375.8,338.4 376.3,338.5 376.8,338.5 377.3,338.5 377.8,338.6 378.3,338.6 378.8,338.7 379.3,338.7 379.8,338.7 380.3,338.8 380.8,338.8 381.3,338.8 381.8,338.9 382.3,338.9 382.8,338.9 383.3,338.9 383.8,339.0 384.3,339.0 384.8,339.0 385.3,339.0 385.8,339.0 386.3,339.0 386.8,339.1 387.3,339.1 387.8,339.1 388.3,339.1 388.8,339.1 389.3,339.1 389.8,339.1 390.3,339.1 390.8,339.1 391.3,339.1 391.8,339.1 392.3,339.1 392.8,339.1 393.3,339.1 393.8,339.1" stroke="#aa346e"/>
<path d="M195.8,292.1 196.3,292.1 196.8,292.0 197.3,292.0 197.8,291.9 198.3,291.7 198.8,291.6 199.3,291.5 199.8,291.3 200.3,291.1 200.8,290.9 201.3,290.7 201.8,290.4 202.3,290.1 202.8,289.8 203.3,289.5 203.8,289.0 204.3,288.5 204.8,287.9 205.3,287.3 205.8,286.7 206.3,286.1 206.8,285.5 207.3,284.8 207.8,284.2 208.3,283.7 208.8,283.1 209.3,282.5 209.8,281.9 210.3,281.4 210.8,280.8 211.3,280.1 211.8,279.5 212.3,278.8 212.8,278.0 213.3,277.3 213.8,276.5 214.3,275.7 214.8,274.9 215.3,274.1 215.8,273.2 216.3,272.3 216.8,271.4 217.3,270.5 217.8,269.5 218.3,268.6 218.8,267.7 219.3,266.8 219.8,265.9 220.3,265.0 220.8,264.2 221.3,263.4 221.8,262.6 222.3,261.8 222.8,261.0 223.3,260.2 223.8,259.4 224.3,258.5 224.8,257.7 225.3,256.9 225.8,256.1 226.3,255.3 226.8,254.6 227.3,253.9 227.8,253.1 228.3,252.4 228.8,251.8 229.3,251.1 229.8,250.4 230.3,249.8 230.8,249.1 231.3,248.5 231.8,247.9 232.3,247.3 232.8,246.8 233.3,246.2 233.8,245.7 234.3,245.2 234.8,244.6 235.3,244.1 235.8,243.6 236.3,243.1 236.8,242.6 237.3,242.2 237.8,241.7 238.3,241.2 238.8,240.8 239.3,240.3 239.8,239.9 240.3,239.5 240.8,239.2 241.3,238.8 241.8,238.4 242.3,238.1 242.8,237.7 243.3,237.4 243.8,237.1 244.3,236.8 244.8,236.4 245.3,236.1 245.8,235.8 246.3,235.5 246.8,235.1 247.3,234.8 247.8,234.4 248.3,234.1 248.8,233.8 249.3,233.5 249.8,233.2 250.3,232.8 250.8,232.5 251.3,232.2 251.8,231.9 252.3,231.6 252.8,231.3 253.3,231.0 253.8,230.7 254.3,230.4 254.8,230.1 255.3,229.8 255.8,229.4 256.3,229.1 256.8,228.7 257.3,228.3 257.8,227.9 258.3,227.5 258.8,227.1 259.3,226.6 259.8,226.2 260.3,225.7 260.8,225.2 261.3,224.7 261.8,224.2 262.3,223.6 262.8,223.0 263.3,222.3 263.8,221.7 264.3,221.0 264.8,220.2 265.3,219.3 265.8,218.4 266.3,217.5 266.8,216.4 267.3,215.3 267.8,213.9 268.3,212.5 268.8,211.1 269.3,209.6 269.8,208.1 270.3,206.6 270.8,205.1 271.3,203.5 271.8,202.0 272.3,200.6 272.8,199.2 273.3,197.8 273.8,196.4 274.3,195.1 274.8,193.9 275.3,192.6 275.8,191.4 276.3,190.0 276.8,188.5 277.3,186.8 277.8,185.1 278.3,183.2 278.8,181.4 279.3,179.5 279.8,177.5 280.3,175.5 280.8,173.6 281.3,171.6 281.8,169.7 282.3,167.7 282.8,165.7 283.3,163.7 283.8,161.6 284.3,159.4 284.8,157.3 285.3,155.1 285.8,153.0 286.3,150.9 286.8,148.9 287.3,147.0 287.8,145.3 288.3,143.6 288.8,142.0 289.3,140.3 289.8,138.5 290.3,136.7 290.8,134.8 291.3,132.9 291.8,131.3 292.3,129.7 292.8,128.2 293.3,126.6 293.8,125.1 294.3,123.6 294.8,122.2 295.3,120.7 295.8,119.3 296.3,117.9 296.8,116.5 297.3,115.3 297.8,114.1 298.3,113.2 298.8,112.5 299.3,112.1 299.8,111.8 300.3,111.5 300.8,111.2 301.3,110.9 301.8,110.7 302.3,110.6 302.8,110.5 303.3,110.5 303.8,110.6 304.3,110.8 304.8,111.1 305.3,111.5 305.8,111.9 306.3,112.3 306.8,112.8 307.3,113.3 307.8,113.8 308.3,114.4 308.8,114.9 309.3,115.5 309.8,116.1 310.3,116.8 310.8,117.5 311.3,118.2 311.8,119.0 312.3,119.8 312.8,120.6 313.3,121.4 313.8,122.2 314.3,123.1 314.8,124.0 315.3,124.9 315.8,125.8 316.3,126.8 316.8,127.8 317.3,128.8 317.8,130.0 318.3,131.2 318.8,132.6 319.3,134.1 319.8,135.9 320.3,137.8 320.8,139.9 321.3,142.0 321.8,144.2 322.3,146.4 322.8,148.5 323.3,150.7 323.8,152.9 324.3,155.1 324.8,157.4 325.3,159.8 325.8,162.3 326.3,165.1 326.8,168.1 327.3,171.4 327.8,175.3 328.3,179.2 328.8,183.1 329.3,186.9 329.8,190.8 330.3,194.7 330.8,198.7 331.3,202.8 331.8,207.0 332.3,211.2 332.8,215.5 333.3,219.8 333.8,224.2 334.3,228.5 334.8,232.7 335.3,236.9 335.8,241.2 336.3,245.4 336.8,249.6 337.3,253.7 337.8,257.7 338.3,261.3 338.8,264.6 339.3,267.9 339.8,271.0 340.3,274.0 340.8,276.9 341.3,279.7 341.8,282.6 342.3,285.7 342.8,288.9 343.3,291.9 343.8,294.8 344.3,297.7 344.8,300.5 345.3,303.3 345.8,305.9 346.3,308.2 346.8,310.3 347.3,312.3 347.8,314.1 348.3,315.7 348.8,317.2 349.3,318.5 349.8,319.8 350.3,321.0 350.8,322.1 351.3,323.1 351.8,324.1 352.3,325.0 352.8,325.8 353.3,326.5 353.8,327.1 354.3,327.7 354.8,328.3 355.3,328.8 355.8,329.2 356.3,329.7 356.8,330.1 357.3,330.5 357.8,330.8 358.3,331.1 358.8,331.5 359.3,331.7 359.8,332.0 360.3,332.3 360.8,332.5 361.3,332.7 361.8,332.9 362.3,333.1 362.8,333.3 363.3,333.5 363.8,333.7 364.3,333.8 364.8,334.0 365.3,334.2 365.8,334.4 366.3,334.6 366.8,334.8 367.3,335.0 367.8,335.1 368.3,335.3 368.8,335.5 369.3,335.6 369.8,335.8 370.3,335.9 370.8,336.1 371.3,336.2 371.8,336.3 372.3,336.5 372.8,336.6 373.3,336.7 373.8,336.8 374.3,336.9 374.8,337.0 375.3,337.1 375.8,337.2 376.3,337.3 376.8,337.4 377.3,337.4 377.8,337.5 378.3,337.5 378.8,337.6 379.3,337.7 379.8,337.7 380.3,337.8 380.8,337.8 381.3,337.9 381.8,337.9 382.3,337.9 382.8,338.0 383.3,338.0 383.8,338.1 384.3,338.1 384.8,338.1 385.3,338.2 385.8,338.2 386.3,338.2 386.8,338.3 387.3,338.3 387.8,338.3 388.3,338.4 388.8,338.4 389.3,338.4 389.8,338.4 390.3,338.4 390.8,338.5 391.3,338.5 391.8,338.5 392.3,338.5 392.8,338.5 393.3,338.5 393.8,338.5" stroke="#8c8c32"/>
<path d="M195.8,288.0 196.3,288.0 196.8,288.0 197.3,287.9 197.8,287.9 198.3,287.8 198.8,287.7 199.3,287.6 199.8,287.5 200.3,287.4 200.8,287.2 201.3,287.1 201.8,286.9 202.3,286.7 202.8,286.5 203.3,286.3 203.8,285.9 204.3,285.5 204.8,285.1 205.3,284.6 205.8,284.1 206.3,283.5 206.8,283.0 207.3,282.5 207.8,281.9 208.3,281.5 208.8,281.0 209.3,280.5 209.8,280.0 210.3,279.5 210.8,279.0 211.3,278.5 211.8,278.0 212.3,277.4 212.8,276.9 213.3,276.3 213.8,275.6 214.3,275.0 214.8,274.4 215.3,273.7 215.8,272.9 216.3,272.1 216.8,271.3 217.3,270.5 217.8,269.7 218.3,268.9 218.8,268.1 219.3,267.3 219.8,266.5 220.3,265.7 220.8,265.0 221.3,264.3 221.8,263.7 222.3,263.0 222.8,262.4 223.3,261.7 223.8,261.0 224.3,260.4 224.8,259.8 225.3,259.2 225.8,258.5 226.3,258.0 226.8,257.4 227.3,256.8 227.8,256.3 228.3,255.7 228.8,255.2 229.3,254.6 229.8,254.1 230.3,253.6 230.8,253.1 231.3,252.6 231.8,252.1 232.3,251.7 232.8,251.2 233.3,250.8 233.8,250.4 234.3,249.9 234.8,249.5 235.3,249.1 235.8,248.7 236.3,248.3 236.8,247.9 237.3,247.6 237.8,247.2 238.3,246.8 238.8,246.5 239.3,246.1 239.8,245.8 240.3,245.5 240.8,245.2 241.3,244.9 241.8,244.6 242.3,244.3 242.8,244.0 243.3,243.7 243.8,243.4 244.3,243.2 244.8,242.9 245.3,242.6 245.8,242.4 246.3,242.1 246.8,241.8 247.3,241.5 247.8,241.3 248.3,241.0 248.8,240.8 249.3,240.5 249.8,240.2 250.3,240.0 250.8,239.8 251.3,239.5 251.8,239.3 252.3,239.0 252.8,238.7 253.3,238.5 253.8,238.2 254.3,238.0 254.8,237.7 255.3,237.4 255.8,237.1 256.3,236.7 256.8,236.4 257.3,236.1 257.8,235.7 258.3,235.3 258.8,234.9 259.3,234.6 259.8,234.2 260.3,233.8 260.8,233.4 261.3,233.0 261.8,232.6 262.3,232.2 262.8,231.7 263.3,231.2 263.8,230.6 264.3,230.0 264.8,229.4 265.3,228.7 265.8,227.9 266.3,227.0 266.8,226.1 267.3,225.0 267.8,223.8 268.3,222.6 268.8,221.2 269.3,219.9 269.8,218.6 270.3,217.3 270.8,216.0 271.3,214.7 271.8,213.4 272.3,212.2 272.8,210.9 273.3,209.7 273.8,208.5 274.3,207.5 274.8,206.4 275.3,205.3 275.8,204.2 276.3,203.0 276.8,201.7 277.3,200.2 277.8,198.6 278.3,196.9 278.8,195.3 279.3,193.5 279.8,191.8 280.3,190.0 280.8,188.2 281.3,186.5 281.8,184.7 282.3,183.0 282.8,181.3 283.3,179.5 283.8,177.6 284.3,175.8 284.8,174.0 285.3,172.2 285.8,170.3 286.3,168.5 286.8,166.8 287.3,165.1 287.8,163.6 288.3,162.2 288.8,160.9 289.3,159.5 289.8,157.9 290.3,156.2 290.8,154.5 291.3,152.7 291.8,151.1 292.3,149.6 292.8,148.2 293.3,146.7 293.8,145.3 294.3,144.0 294.8,142.7 295.3,141.4 295.8,140.1 296.3,138.8 296.8,137.6 297.3,136.4 297.8,135.4 298.3,134.6 298.8,134.0 299.3,133.6 299.8,133.2 300.3,132.9 300.8,132.7 301.3,132.4 301.8,132.2 302.3,132.0 302.8,131.9 303.3,131.9 303.8,131.9 304.3,132.0 304.8,132.2 305.3,132.5 305.8,132.8 306.3,133.2 306.8,133.6 307.3,134.0 307.8,134.4 308.3,134.8 308.8,135.2 309.3,135.7 309.8,136.2 310.3,136.8 310.8,137.4 311.3,138.0 311.8,138.6 312.3,139.3 312.8,140.0 313.3,140.7 313.8,141.5 314.3,142.3 314.8,143.1 315.3,144.0 315.8,144.8 316.3,145.7 316.8,146.6 317.3,147.5 317.8,148.5 318.3,149.6 318.8,150.7 319.3,152.0 319.8,153.5 320.3,155.3 320.8,157.1 321.3,159.1 321.8,161.1 322.3,163.2 322.8,165.2 323.3,167.2 323.8,169.3 324.3,171.3 324.8,173.4 325.3,175.6 325.8,177.9 326.3,180.4 326.8,183.0 327.3,185.8 327.8,188.9 328.3,192.2 328.8,195.5 329.3,198.8 329.8,202.2 330.3,205.6 330.8,209.2 331.3,212.9 331.8,216.6 332.3,220.4 332.8,224.3 333.3,228.2 333.8,232.1 334.3,236.1 334.8,239.9 335.3,243.7 335.8,247.6 336.3,251.4 336.8,255.2 337.3,258.9 337.8,262.4 338.3,265.5 338.8,268.3 339.3,271.0 339.8,273.6 340.3,276.1 340.8,278.5 341.3,280.8 341.8,283.2 342.3,285.8 342.8,288.5 343.3,291.1 343.8,293.6 344.3,296.1 344.8,298.6 345.3,301.1 345.8,303.4 346.3,305.5 346.8,307.5 347.3,309.3 347.8,311.0 348.3,312.6 348.8,314.1 349.3,315.5 349.8,316.8 350.3,318.0 350.8,319.2 351.3,320.3 351.8,321.3 352.3,322.3 352.8,323.1 353.3,323.9 353.8,324.6 354.3,325.3 354.8,325.9 355.3,326.4 355.8,327.0 356.3,327.4 356.8,327.9 357.3,328.3 357.8,328.7 358.3,329.1 358.8,329.5 359.3,329.8 359.8,330.1 360.3,330.4 360.8,330.6 361.3,330.9 361.8,331.1 362.3,331.3 362.8,331.5 363.3,331.8 363.8,332.0 364.3,332.2 364.8,332.4 365.3,332.6 365.8,332.9 366.3,333.1 366.8,333.3 367.3,333.5 367.8,333.7 368.3,333.9 368.8,334.1 369.3,334.3 369.8,334.4 370.3,334.6 370.8,334.8 371.3,335.0 371.8,335.1 372.3,335.3 372.8,335.5 373.3,335.6 373.8,335.8 374.3,335.9 374.8,336.0 375.3,336.1 375.8,336.2 376.3,336.3 376.8,336.4 377.3,336.5 377.8,336.6 378.3,336.7 378.8,336.7 379.3,336.8 379.8,336.9 380.3,337.0 380.8,337.0 381.3,337.1 381.8,337.1 382.3,337.2 382.8,337.2 383.3,337.3 383.8,337.4 384.3,337.4 384.8,337.5 385.3,337.5 385.8,337.5 386.3,337.6 386.8,337.6 387.3,337.7 387.8,337.7 388.3,337.8 388.8,337.8 389.3,337.8 389.8,337.9 390.3,337.9 390.8,337.9 391.3,338.0 391.8,338.0 392.3,338.0 392.8,338.1 393.3,338.1 393.8,338.1" stroke="#6868b2"/>
<path d="M195.8,285.2 196.3,285.2 196.8,285.2 197.3,285.1 197.8,285.1 198.3,285.1 198.8,285.0 199.3,284.9 199.8,284.8 200.3,284.7 200.8,284.7 201.3,284.5 201.8,284.4 202.3,284.3 202.8,284.2 203.3,284.0 203.8,283.8 204.3,283.5 204.8,283.1 205.3,282.7 205.8,282.3 206.3,281.8 206.8,281.4 207.3,280.9 207.8,280.5 208.3,280.1 208.8,279.6 209.3,279.2 209.8,278.8 210.3,278.4 210.8,278.0 211.3,277.6 211.8,277.1 212.3,276.7 212.8,276.2 213.3,275.7 213.8,275.2 214.3,274.7 214.8,274.2 215.3,273.6 215.8,273.0 216.3,272.3 216.8,271.6 217.3,270.9 217.8,270.2 218.3,269.5 218.8,268.8 219.3,268.1 219.8,267.5 220.3,266.8 220.8,266.2 221.3,265.7 221.8,265.1 222.3,264.6 222.8,264.0 223.3,263.5 223.8,263.0 224.3,262.5 224.8,262.0 225.3,261.5 225.8,261.1 226.3,260.6 226.8,260.1 227.3,259.7 227.8,259.2 228.3,258.8 228.8,258.4 229.3,257.9 229.8,257.5 230.3,257.1 230.8,256.7 231.3,256.3 231.8,255.9 232.3,255.5 232.8,255.2 233.3,254.8 233.8,254.4 234.3,254.1 234.8,253.8 235.3,253.4 235.8,253.1 236.3,252.8 236.8,252.5 237.3,252.2 237.8,251.9 238.3,251.6 238.8,251.3 239.3,251.0 239.8,250.7 240.3,250.5 240.8,250.2 241.3,249.9 241.8,249.7 242.3,249.5 242.8,249.2 243.3,249.0 243.8,248.8 244.3,248.5 244.8,248.3 245.3,248.1 245.8,247.9 246.3,247.7 246.8,247.4 247.3,247.2 247.8,247.0 248.3,246.8 248.8,246.6 249.3,246.4 249.8,246.1 250.3,245.9 250.8,245.7 251.3,245.5 251.8,245.3 252.3,245.1 252.8,244.9 253.3,244.6 253.8,244.4 254.3,244.2 254.8,243.9 255.3,243.6 255.8,243.4 256.3,243.1 256.8,242.7 257.3,242.4 257.8,242.1 258.3,241.8 258.8,241.4 259.3,241.1 259.8,240.8 260.3,240.4 260.8,240.1 261.3,239.8 261.8,239.4 262.3,239.1 262.8,238.7 263.3,238.3 263.8,237.8 264.3,237.3 264.8,236.7 265.3,236.1 265.8,235.4 266.3,234.7 266.8,233.9 267.3,232.9 267.8,231.9 268.3,230.7 268.8,229.6 269.3,228.4 269.8,227.3 270.3,226.2 270.8,225.1 271.3,223.9 271.8,222.8 272.3,221.7 272.8,220.6 273.3,219.5 273.8,218.5 274.3,217.5 274.8,216.6 275.3,215.6 275.8,214.6 276.3,213.5 276.8,212.3 277.3,211.0 277.8,209.6 278.3,208.1 278.8,206.6 279.3,205.1 279.8,203.5 280.3,201.9 280.8,200.3 281.3,198.7 281.8,197.2 282.3,195.6 282.8,194.0 283.3,192.4 283.8,190.8 284.3,189.2 284.8,187.5 285.3,185.9 285.8,184.3 286.3,182.7 286.8,181.2 287.3,179.7 287.8,178.4 288.3,177.2 288.8,176.0 289.3,174.8 289.8,173.4 290.3,171.9 290.8,170.3 291.3,168.7 291.8,167.2 292.3,165.8 292.8,164.5 293.3,163.1 293.8,161.9 294.3,160.7 294.8,159.6 295.3,158.4 295.8,157.2 296.3,156.1 296.8,155.0 297.3,153.9 297.8,153.1 298.3,152.3 298.8,151.8 299.3,151.4 299.8,151.1 300.3,150.7 300.8,150.5 301.3,150.2 301.8,150.0 302.3,149.8 302.8,149.7 303.3,149.6 303.8,149.6 304.3,149.7 304.8,149.8 305.3,150.0 305.8,150.3 306.3,150.6 306.8,150.9 307.3,151.2 307.8,151.5 308.3,151.9 308.8,152.2 309.3,152.7 309.8,153.1 310.3,153.6 310.8,154.1 311.3,154.6 311.8,155.1 312.3,155.7 312.8,156.4 313.3,157.0 313.8,157.7 314.3,158.5 314.8,159.2 315.3,160.0 315.8,160.8 316.3,161.5 316.8,162.3 317.3,163.1 317.8,164.0 318.3,164.9 318.8,165.9 319.3,167.1 319.8,168.3 320.3,169.9 320.8,171.6 321.3,173.4 321.8,175.4 322.3,177.3 322.8,179.2 323.3,181.1 323.8,182.9 324.3,184.9 324.8,186.8 325.3,188.8 325.8,190.9 326.3,193.1 326.8,195.4 327.3,197.8 327.8,200.4 328.3,203.1 328.8,205.9 329.3,208.8 329.8,211.8 330.3,214.9 330.8,218.1 331.3,221.3 331.8,224.7 332.3,228.0 332.8,231.5 333.3,235.0 333.8,238.6 334.3,242.1 334.8,245.6 335.3,249.1 335.8,252.5 336.3,256.0 336.8,259.4 337.3,262.7 337.8,265.8 338.3,268.5 338.8,270.9 339.3,273.3 339.8,275.5 340.3,277.6 340.8,279.7 341.3,281.7 341.8,283.7 342.3,285.9 342.8,288.2 343.3,290.4 343.8,292.7 344.3,294.9 344.8,297.0 345.3,299.2 345.8,301.4 346.3,303.3 346.8,305.1 347.3,306.9 347.8,308.6 348.3,310.1 348.8,311.6 349.3,313.0 349.8,314.3 350.3,315.6 350.8,316.8 351.3,318.0 351.8,319.1 352.3,320.1 352.8,321.0 353.3,321.8 353.8,322.6 354.3,323.3 354.8,323.9 355.3,324.5 355.8,325.1 356.3,325.6 356.8,326.1 357.3,326.6 357.8,327.0 358.3,327.4 358.8,327.8 359.3,328.2 359.8,328.5 360.3,328.8 360.8,329.1 361.3,329.4 361.8,329.6 362.3,329.9 362.8,330.1 363.3,330.3 363.8,330.6 364.3,330.8 364.8,331.1 365.3,331.3 365.8,331.6 366.3,331.8 366.8,332.1 367.3,332.3 367.8,332.5 368.3,332.7 368.8,332.9 369.3,333.1 369.8,333.4 370.3,333.6 370.8,333.8 371.3,334.0 371.8,334.2 372.3,334.4 372.8,334.5 373.3,334.7 373.8,334.9 374.3,335.0 374.8,335.2 375.3,335.3 375.8,335.5 376.3,335.6 376.8,335.7 377.3,335.8 377.8,335.9 378.3,336.0 378.8,336.0 379.3,336.1 379.8,336.2 380.3,336.3 380.8,336.4 381.3,336.4 381.8,336.5 382.3,336.6 382.8,336.6 383.3,336.7 383.8,336.8 384.3,336.8 384.8,336.9 385.3,336.9 385.8,337.0 386.3,337.1 386.8,337.1 387.3,337.2 387.8,337.2 388.3,337.3 388.8,337.3 389.3,337.4 389.8,337.4 390.3,337.5 390.8,337.5 391.3,337.6 391.8,337.6 392.3,337.6 392.8,337.7 393.3,337.7 393.8,337.8" stroke="#4cc0c6"/>
<path d="M195.8,283.0 196.3,283.0 196.8,283.0 197.3,283.0 197.8,283.0 198.3,283.0 198.8,282.9 199.3,282.9 199.8,282.8 200.3,282.8 200.8,282.7 201.3,282.6 201.8,282.6 202.3,282.5 202.8,282.4 203.3,282.3 203.8,282.2 204.3,281.9 204.8,281.6 205.3,281.3 205.8,281.0 206.3,280.6 206.8,280.2 207.3,279.8 207.8,279.5 208.3,279.1 208.8,278.8 209.3,278.4 209.8,278.1 210.3,277.7 210.8,277.4 211.3,277.0 211.8,276.6 212.3,276.2 212.8,275.9 213.3,275.5 213.8,275.1 214.3,274.7 214.8,274.2 215.3,273.7 215.8,273.2 216.3,272.7 216.8,272.2 217.3,271.6 217.8,271.0 218.3,270.5 218.8,269.9 219.3,269.3 219.8,268.8 220.3,268.3 220.8,267.8 221.3,267.3 221.8,266.9 222.3,266.4 222.8,266.0 223.3,265.6 223.8,265.2 224.3,264.8 224.8,264.5 225.3,264.1 225.8,263.7 226.3,263.4 226.8,263.0 227.3,262.6 227.8,262.3 228.3,261.9 228.8,261.6 229.3,261.2 229.8,260.9 230.3,260.5 230.8,260.2 231.3,259.9 231.8,259.6 232.3,259.2 232.8,258.9 233.3,258.6 233.8,258.3 234.3,258.1 234.8,257.8 235.3,257.5 235.8,257.2 236.3,257.0 236.8,256.7 237.3,256.5 237.8,256.2 238.3,256.0 238.8,255.7 239.3,255.5 239.8,255.3 240.3,255.1 240.8,254.8 241.3,254.6 241.8,254.4 242.3,254.2 242.8,254.0 243.3,253.9 243.8,253.7 244.3,253.5 244.8,253.3 245.3,253.1 245.8,253.0 246.3,252.8 246.8,252.6 247.3,252.4 247.8,252.2 248.3,252.1 248.8,251.9 249.3,251.7 249.8,251.5 250.3,251.4 250.8,251.2 251.3,251.0 251.8,250.8 252.3,250.6 252.8,250.4 253.3,250.2 253.8,250.0 254.3,249.8 254.8,249.5 255.3,249.3 255.8,249.0 256.3,248.8 256.8,248.5 257.3,248.2 257.8,247.9 258.3,247.6 258.8,247.3 259.3,247.0 259.8,246.7 260.3,246.4 260.8,246.1 261.3,245.8 261.8,245.5 262.3,245.2 262.8,244.8 263.3,244.5 263.8,244.1 264.3,243.7 264.8,243.2 265.3,242.7 265.8,242.1 266.3,241.4 266.8,240.7 267.3,239.9 267.8,239.0 268.3,238.1 268.8,237.1 269.3,236.1 269.8,235.1 270.3,234.2 270.8,233.2 271.3,232.3 271.8,231.3 272.3,230.3 272.8,229.3 273.3,228.4 273.8,227.4 274.3,226.6 274.8,225.7 275.3,224.8 275.8,223.9 276.3,222.9 276.8,221.8 277.3,220.6 277.8,219.4 278.3,218.1 278.8,216.8 279.3,215.5 279.8,214.1 280.3,212.7 280.8,211.3 281.3,209.9 281.8,208.4 282.3,207.0 282.8,205.6 283.3,204.1 283.8,202.6 284.3,201.1 284.8,199.7 285.3,198.2 285.8,196.8 286.3,195.3 286.8,194.0 287.3,192.7 287.8,191.5 288.3,190.4 288.8,189.4 289.3,188.3 289.8,187.1 290.3,185.7 290.8,184.3 291.3,182.9 291.8,181.6 292.3,180.3 292.8,179.1 293.3,177.9 293.8,176.8 294.3,175.7 294.8,174.7 295.3,173.7 295.8,172.7 296.3,171.7 296.8,170.8 297.3,169.9 297.8,169.1 298.3,168.5 298.8,168.0 299.3,167.6 299.8,167.3 300.3,167.0 300.8,166.7 301.3,166.5 301.8,166.2 302.3,166.1 302.8,165.9 303.3,165.9 303.8,165.8 304.3,165.9 304.8,166.0 305.3,166.1 305.8,166.3 306.3,166.5 306.8,166.8 307.3,167.0 307.8,167.3 308.3,167.6 308.8,167.9 309.3,168.3 309.8,168.7 310.3,169.1 310.8,169.5 311.3,170.0 311.8,170.4 312.3,171.0 312.8,171.5 313.3,172.1 313.8,172.7 314.3,173.4 314.8,174.1 315.3,174.8 315.8,175.5 316.3,176.1 316.8,176.8 317.3,177.5 317.8,178.3 318.3,179.1 318.8,179.9 319.3,180.9 319.8,182.0 320.3,183.3 320.8,184.9 321.3,186.6 321.8,188.4 322.3,190.3 322.8,192.0 323.3,193.8 323.8,195.5 324.3,197.3 324.8,199.1 325.3,200.9 325.8,202.8 326.3,204.7 326.8,206.7 327.3,208.8 327.8,211.0 328.3,213.3 328.8,215.7 329.3,218.2 329.8,220.7 330.3,223.4 330.8,226.2 331.3,229.0 331.8,232.0 332.3,235.0 332.8,238.0 333.3,241.2 333.8,244.4 334.3,247.5 334.8,250.6 335.3,253.7 335.8,256.8 336.3,259.8 336.8,262.8 337.3,265.7 337.8,268.5 338.3,270.9 338.8,273.0 339.3,275.1 339.8,277.0 340.3,278.9 340.8,280.7 341.3,282.4 341.8,284.1 342.3,286.0 342.8,287.9 343.3,289.9 343.8,291.8 344.3,293.7 344.8,295.6 345.3,297.6 345.8,299.5 346.3,301.3 346.8,303.0 347.3,304.7 347.8,306.3 348.3,307.9 348.8,309.3 349.3,310.8 349.8,312.1 350.3,313.4 350.8,314.7 351.3,315.9 351.8,317.0 352.3,318.1 352.8,319.1 353.3,319.9 353.8,320.7 354.3,321.5 354.8,322.1 355.3,322.8 355.8,323.4 356.3,324.0 356.8,324.5 357.3,325.0 357.8,325.5 358.3,325.9 358.8,326.3 359.3,326.7 359.8,327.1 360.3,327.4 360.8,327.7 361.3,328.0 361.8,328.3 362.3,328.6 362.8,328.8 363.3,329.1 363.8,329.3 364.3,329.6 364.8,329.9 365.3,330.1 365.8,330.4 366.3,330.7 366.8,330.9 367.3,331.2 367.8,331.4 368.3,331.7 368.8,331.9 369.3,332.1 369.8,332.4 370.3,332.6 370.8,332.8 371.3,333.1 371.8,333.3 372.3,333.5 372.8,333.7 373.3,333.9 373.8,334.1 374.3,334.3 374.8,334.4 375.3,334.6 375.8,334.7 376.3,334.9 376.8,335.0 377.3,335.1 377.8,335.2 378.3,335.3 378.8,335.4 379.3,335.5 379.8,335.6 380.3,335.7 380.8,335.8 381.3,335.9 381.8,335.9 382.3,336.0 382.8,336.1 383.3,336.2 383.8,336.2 384.3,336.3 384.8,336.4 385.3,336.5 385.8,336.5 386.3,336.6 386.8,336.7 387.3,336.7 387.8,336.8 388.3,336.8 388.8,336.9 389.3,337.0 389.8,337.0 390.3,337.1 390.8,337.1 391.3,337.2 391.8,337.2 392.3,337.3 392.8,337.3 393.3,337.4 393.8,337.4" stroke="#f39634"/>
<path d="M195.8,281.4 196.3,281.4 196.8,281.4 197.3,281.4 197.8,281.4 198.3,281.4 198.8,281.4 199.3,281.4 199.8,281.3 200.3,281.3 200.8,281.3 201.3,281.2 201.8,281.2 202.3,281.2 202.8,281.1 203.3,281.1 203.8,280.9 204.3,280.8 204.8,280.6 205.3,280.3 205.8,280.0 206.3,279.7 206.8,279.4 207.3,279.1 207.8,278.9 208.3,278.6 208.8,278.3 209.3,278.0 209.8,277.7 210.3,277.4 210.8,277.0 211.3,276.7 211.8,276.4 212.3,276.1 212.8,275.7 213.3,275.4 213.8,275.1 214.3,274.8 214.8,274.4 215.3,274.1 215.8,273.7 216.3,273.3 216.8,272.9 217.3,272.4 217.8,272.0 218.3,271.6 218.8,271.1 219.3,270.7 219.8,270.3 220.3,269.9 220.8,269.5 221.3,269.2 221.8,268.8 222.3,268.5 222.8,268.2 223.3,267.9 223.8,267.6 224.3,267.3 224.8,267.0 225.3,266.7 225.8,266.4 226.3,266.1 226.8,265.9 227.3,265.6 227.8,265.3 228.3,265.0 228.8,264.7 229.3,264.4 229.8,264.1 230.3,263.8 230.8,263.6 231.3,263.3 231.8,263.0 232.3,262.8 232.8,262.5 233.3,262.2 233.8,262.0 234.3,261.8 234.8,261.5 235.3,261.3 235.8,261.1 236.3,260.8 236.8,260.6 237.3,260.4 237.8,260.2 238.3,260.0 238.8,259.8 239.3,259.6 239.8,259.4 240.3,259.2 240.8,259.1 241.3,258.9 241.8,258.7 242.3,258.6 242.8,258.4 243.3,258.3 243.8,258.2 244.3,258.0 244.8,257.9 245.3,257.7 245.8,257.6 246.3,257.5 246.8,257.3 247.3,257.2 247.8,257.0 248.3,256.9 248.8,256.7 249.3,256.6 249.8,256.4 250.3,256.2 250.8,256.1 251.3,255.9 251.8,255.8 252.3,255.6 252.8,255.4 253.3,255.2 253.8,255.0 254.3,254.8 254.8,254.6 255.3,254.4 255.8,254.1 256.3,253.9 256.8,253.6 257.3,253.4 257.8,253.1 258.3,252.8 258.8,252.6 259.3,252.3 259.8,252.0 260.3,251.7 260.8,251.4 261.3,251.1 261.8,250.8 262.3,250.5 262.8,250.2 263.3,249.9 263.8,249.6 264.3,249.3 264.8,248.9 265.3,248.4 265.8,247.9 266.3,247.4 266.8,246.8 267.3,246.1 267.8,245.4 268.3,244.6 268.8,243.8 269.3,242.9 269.8,242.1 270.3,241.4 270.8,240.6 271.3,239.7 271.8,238.9 272.3,238.0 272.8,237.2 273.3,236.3 273.8,235.5 274.3,234.6 274.8,233.8 275.3,233.0 275.8,232.1 276.3,231.2 276.8,230.2 277.3,229.2 277.8,228.1 278.3,227.0 278.8,225.9 279.3,224.8 279.8,223.6 280.3,222.3 280.8,221.1 281.3,219.9 281.8,218.6 282.3,217.2 282.8,215.9 283.3,214.5 283.8,213.1 284.3,211.8 284.8,210.4 285.3,209.1 285.8,207.8 286.3,206.5 286.8,205.2 287.3,204.1 287.8,203.0 288.3,202.1 288.8,201.1 289.3,200.1 289.8,199.1 290.3,197.9 290.8,196.6 291.3,195.4 291.8,194.2 292.3,193.1 292.8,192.0 293.3,191.0 293.8,190.1 294.3,189.2 294.8,188.3 295.3,187.5 295.8,186.6 296.3,185.8 296.8,185.0 297.3,184.2 297.8,183.6 298.3,183.0 298.8,182.6 299.3,182.3 299.8,181.9 300.3,181.6 300.8,181.3 301.3,181.1 301.8,180.9 302.3,180.7 302.8,180.6 303.3,180.6 303.8,180.5 304.3,180.6 304.8,180.6 305.3,180.7 305.8,180.9 306.3,181.0 306.8,181.2 307.3,181.4 307.8,181.6 308.3,181.8 308.8,182.1 309.3,182.5 309.8,182.8 310.3,183.2 310.8,183.6 311.3,184.0 311.8,184.4 312.3,184.9 312.8,185.4 313.3,185.9 313.8,186.5 314.3,187.0 314.8,187.6 315.3,188.2 315.8,188.8 316.3,189.4 316.8,190.0 317.3,190.6 317.8,191.3 318.3,191.9 318.8,192.7 319.3,193.5 319.8,194.4 320.3,195.5 320.8,196.9 321.3,198.6 321.8,200.3 322.3,202.0 322.8,203.7 323.3,205.3 323.8,206.9 324.3,208.5 324.8,210.1 325.3,211.8 325.8,213.5 326.3,215.2 326.8,217.0 327.3,218.8 327.8,220.7 328.3,222.6 328.8,224.6 329.3,226.7 329.8,228.9 330.3,231.2 330.8,233.5 331.3,236.0 331.8,238.6 332.3,241.2 332.8,243.9 333.3,246.7 333.8,249.5 334.3,252.2 334.8,254.9 335.3,257.6 335.8,260.3 336.3,263.0 336.8,265.7 337.3,268.2 337.8,270.6 338.3,272.7 338.8,274.6 339.3,276.4 339.8,278.2 340.3,279.9 340.8,281.5 341.3,283.0 341.8,284.5 342.3,286.1 342.8,287.7 343.3,289.3 343.8,291.0 344.3,292.7 344.8,294.4 345.3,296.2 345.8,297.9 346.3,299.5 346.8,301.1 347.3,302.7 347.8,304.3 348.3,305.8 348.8,307.3 349.3,308.8 349.8,310.1 350.3,311.4 350.8,312.8 351.3,314.0 351.8,315.2 352.3,316.3 352.8,317.3 353.3,318.2 353.8,319.1 354.3,319.8 354.8,320.6 355.3,321.2 355.8,321.9 356.3,322.5 356.8,323.1 357.3,323.6 357.8,324.1 358.3,324.6 358.8,325.0 359.3,325.4 359.8,325.8 360.3,326.2 360.8,326.5 361.3,326.8 361.8,327.1 362.3,327.4 362.8,327.7 363.3,327.9 363.8,328.2 364.3,328.5 364.8,328.8 365.3,329.1 365.8,329.4 366.3,329.7 366.8,329.9 367.3,330.2 367.8,330.5 368.3,330.7 368.8,331.0 369.3,331.2 369.8,331.5 370.3,331.8 370.8,332.0 371.3,332.3 371.8,332.5 372.3,332.7 372.8,333.0 373.3,333.2 373.8,333.4 374.3,333.6 374.8,333.8 375.3,333.9 375.8,334.1 376.3,334.2 376.8,334.4 377.3,334.5 377.8,334.6 378.3,334.7 378.8,334.9 379.3,335.0 379.8,335.1 380.3,335.2 380.8,335.3 381.3,335.4 381.8,335.4 382.3,335.5 382.8,335.6 383.3,335.7 383.8,335.8 384.3,335.9 384.8,335.9 385.3,336.0 385.8,336.1 386.3,336.2 386.8,336.2 387.3,336.3 387.8,336.4 388.3,336.5 388.8,336.5 389.3,336.6 389.8,336.7 390.3,336.7 390.8,336.8 391.3,336.9 391.8,336.9 392.3,337.0 392.8,337.0 393.3,337.1 393.8,337.1" stroke="#9090da"/>
<path d="M195.8,280.4 196.3,280.4 196.8,280.4 197.3,280.4 197.8,280.4 198.3,280.4 198.8,280.4 199.3,280.4 199.8,280.4 200.3,280.3 200.8,280.3 201.3,280.3 201.8,280.3 202.3,280.3 202.8,280.3 203.3,280.2 203.8,280.2 204.3,280.0 204.8,279.9 205.3,279.7 205.8,279.5 206.3,279.3 206.8,279.0 207.3,278.8 207.8,278.6 208.3,278.4 208.8,278.1 209.3,277.9 209.8,277.6 210.3,277.3 210.8,277.0 211.3,276.7 211.8,276.4 212.3,276.1 212.8,275.8 213.3,275.5 213.8,275.3 214.3,275.0 214.8,274.7 215.3,274.5 215.8,274.2 216.3,273.9 216.8,273.6 217.3,273.2 217.8,272.9 218.3,272.6 218.8,272.3 219.3,272.0 219.8,271.7 220.3,271.4 220.8,271.1 221.3,270.9 221.8,270.6 222.3,270.4 222.8,270.2 223.3,269.9 223.8,269.7 224.3,269.5 224.8,269.2 225.3,269.0 225.8,268.8 226.3,268.6 226.8,268.3 227.3,268.1 227.8,267.8 228.3,267.6 228.8,267.4 229.3,267.1 229.8,266.9 230.3,266.6 230.8,266.4 231.3,266.1 231.8,265.9 232.3,265.7 232.8,265.4 233.3,265.2 233.8,265.0 234.3,264.8 234.8,264.6 235.3,264.4 235.8,264.2 236.3,264.0 236.8,263.8 237.3,263.6 237.8,263.4 238.3,263.2 238.8,263.1 239.3,262.9 239.8,262.7 240.3,262.6 240.8,262.4 241.3,262.3 241.8,262.2 242.3,262.1 242.8,262.0 243.3,261.9 243.8,261.8 244.3,261.7 244.8,261.6 245.3,261.4 245.8,261.3 246.3,261.2 246.8,261.1 247.3,260.9 247.8,260.8 248.3,260.7 248.8,260.5 249.3,260.4 249.8,260.3 250.3,260.1 250.8,260.0 251.3,259.8 251.8,259.7 252.3,259.5 252.8,259.3 253.3,259.2 253.8,259.0 254.3,258.8 254.8,258.6 255.3,258.4 255.8,258.2 256.3,257.9 256.8,257.7 257.3,257.5 257.8,257.2 258.3,257.0 258.8,256.7 259.3,256.4 259.8,256.2 260.3,255.9 260.8,255.6 261.3,255.3 261.8,255.0 262.3,254.7 262.8,254.4 263.3,254.1 263.8,253.9 264.3,253.6 264.8,253.2 265.3,252.8 265.8,252.4 266.3,252.0 266.8,251.5 267.3,250.9 267.8,250.3 268.3,249.7 268.8,249.0 269.3,248.4 269.8,247.7 270.3,247.0 270.8,246.3 271.3,245.6 271.8,244.9 272.3,244.1 272.8,243.3 273.3,242.5 273.8,241.8 274.3,241.0 274.8,240.2 275.3,239.3 275.8,238.5 276.3,237.6 276.8,236.7 277.3,235.8 277.8,234.9 278.3,234.0 278.8,233.1 279.3,232.1 279.8,231.1 280.3,230.0 280.8,228.9 281.3,227.8 281.8,226.6 282.3,225.3 282.8,224.0 283.3,222.7 283.8,221.4 284.3,220.1 284.8,218.8 285.3,217.6 285.8,216.3 286.3,215.1 286.8,214.0 287.3,213.0 287.8,212.0 288.3,211.1 288.8,210.2 289.3,209.2 289.8,208.3 290.3,207.3 290.8,206.2 291.3,205.1 291.8,204.1 292.3,203.1 292.8,202.2 293.3,201.3 293.8,200.5 294.3,199.7 294.8,199.0 295.3,198.3 295.8,197.6 296.3,196.9 296.8,196.2 297.3,195.6 297.8,195.0 298.3,194.6 298.8,194.2 299.3,193.9 299.8,193.6 300.3,193.3 300.8,193.0 301.3,192.7 301.8,192.5 302.3,192.4 302.8,192.3 303.3,192.3 303.8,192.3 304.3,192.3 304.8,192.3 305.3,192.4 305.8,192.5 306.3,192.6 306.8,192.7 307.3,192.8 307.8,193.0 308.3,193.2 308.8,193.5 309.3,193.8 309.8,194.2 310.3,194.5 310.8,194.9 311.3,195.3 311.8,195.7 312.3,196.1 312.8,196.5 313.3,197.0 313.8,197.5 314.3,198.0 314.8,198.5 315.3,199.0 315.8,199.6 316.3,200.1 316.8,200.6 317.3,201.1 317.8,201.7 318.3,202.2 318.8,202.8 319.3,203.5 319.8,204.3 320.3,205.3 320.8,206.6 321.3,208.1 321.8,209.8 322.3,211.4 322.8,213.1 323.3,214.6 323.8,216.0 324.3,217.5 324.8,219.0 325.3,220.5 325.8,222.0 326.3,223.6 326.8,225.2 327.3,226.8 327.8,228.4 328.3,230.1 328.8,231.8 329.3,233.6 329.8,235.5 330.3,237.4 330.8,239.4 331.3,241.6 331.8,243.8 332.3,246.2 332.8,248.6 333.3,251.0 333.8,253.4 334.3,255.8 334.8,258.2 335.3,260.6 335.8,263.0 336.3,265.4 336.8,267.7 337.3,269.9 337.8,272.0 338.3,273.9 338.8,275.7 339.3,277.4 339.8,279.0 340.3,280.5 340.8,282.0 341.3,283.4 341.8,284.7 342.3,286.1 342.8,287.5 343.3,288.9 343.8,290.4 344.3,291.9 344.8,293.4 345.3,295.0 345.8,296.6 346.3,298.1 346.8,299.7 347.3,301.2 347.8,302.7 348.3,304.2 348.8,305.7 349.3,307.2 349.8,308.6 350.3,309.9 350.8,311.3 351.3,312.6 351.8,313.8 352.3,314.9 352.8,316.0 353.3,316.9 353.8,317.7 354.3,318.6 354.8,319.3 355.3,320.0 355.8,320.7 356.3,321.3 356.8,321.9 357.3,322.5 357.8,323.0 358.3,323.5 358.8,324.0 359.3,324.4 359.8,324.8 360.3,325.2 360.8,325.6 361.3,325.9 361.8,326.2 362.3,326.5 362.8,326.8 363.3,327.1 363.8,327.3 364.3,327.6 364.8,327.9 365.3,328.2 365.8,328.6 366.3,328.9 366.8,329.2 367.3,329.5 367.8,329.7 368.3,330.0 368.8,330.3 369.3,330.5 369.8,330.8 370.3,331.1 370.8,331.4 371.3,331.6 371.8,331.9 372.3,332.1 372.8,332.4 373.3,332.6 373.8,332.8 374.3,333.0 374.8,333.2 375.3,333.4 375.8,333.6 376.3,333.8 376.8,333.9 377.3,334.0 377.8,334.2 378.3,334.3 378.8,334.4 379.3,334.5 379.8,334.6 380.3,334.7 380.8,334.8 381.3,334.9 381.8,335.0 382.3,335.1 382.8,335.2 383.3,335.3 383.8,335.4 384.3,335.5 384.8,335.6 385.3,335.7 385.8,335.7 386.3,335.8 386.8,335.9 387.3,336.0 387.8,336.1 388.3,336.1 388.8,336.2 389.3,336.3 389.8,336.4 390.3,336.4 390.8,336.5 391.3,336.6 391.8,336.7 392.3,336.7 392.8,336.8 393.3,336.8 393.8,336.9" stroke="#ee7e7e"/>
<path d="M195.8,279.6 196.3,279.6 196.8,279.6 197.3,279.6 197.8,279.6 198.3,279.6 198.8,279.6 199.3,279.6 199.8,279.6 200.3,279.6 200.8,279.6 201.3,279.6 201.8,279.6 202.3,279.6 202.8,279.6 203.3,279.6 203.8,279.5 204.3,279.5 204.8,279.4 205.3,279.2 205.8,279.1 206.3,278.9 206.8,278.8 207.3,278.6 207.8,278.5 208.3,278.3 208.8,278.1 209.3,277.9 209.8,277.6 210.3,277.3 210.8,277.1 211.3,276.8 211.8,276.5 212.3,276.2 212.8,276.0 213.3,275.8 213.8,275.5 214.3,275.3 214.8,275.1 215.3,274.9 215.8,274.8 216.3,274.6 216.8,274.4 217.3,274.2 217.8,274.0 218.3,273.8 218.8,273.7 219.3,273.5 219.8,273.3 220.3,273.2 220.8,273.0 221.3,272.8 221.8,272.7 222.3,272.5 222.8,272.3 223.3,272.2 223.8,272.0 224.3,271.9 224.8,271.7 225.3,271.5 225.8,271.3 226.3,271.2 226.8,271.0 227.3,270.8 227.8,270.6 228.3,270.4 228.8,270.2 229.3,269.9 229.8,269.7 230.3,269.5 230.8,269.3 231.3,269.1 231.8,268.9 232.3,268.7 232.8,268.5 233.3,268.3 233.8,268.1 234.3,267.9 234.8,267.7 235.3,267.5 235.8,267.4 236.3,267.2 236.8,267.0 237.3,266.8 237.8,266.7 238.3,266.5 238.8,266.4 239.3,266.2 239.8,266.1 240.3,266.0 240.8,265.8 241.3,265.7 241.8,265.7 242.3,265.6 242.8,265.5 243.3,265.5 243.8,265.4 244.3,265.3 244.8,265.2 245.3,265.1 245.8,265.1 246.3,265.0 246.8,264.9 247.3,264.7 247.8,264.6 248.3,264.5 248.8,264.4 249.3,264.3 249.8,264.1 250.3,264.0 250.8,263.9 251.3,263.7 251.8,263.6 252.3,263.4 252.8,263.2 253.3,263.1 253.8,262.9 254.3,262.7 254.8,262.5 255.3,262.4 255.8,262.2 256.3,262.0 256.8,261.8 257.3,261.6 257.8,261.3 258.3,261.1 258.8,260.8 259.3,260.6 259.8,260.3 260.3,260.0 260.8,259.6 261.3,259.3 261.8,259.0 262.3,258.7 262.8,258.5 263.3,258.2 263.8,258.0 264.3,257.7 264.8,257.5 265.3,257.1 265.8,256.8 266.3,256.4 266.8,256.0 267.3,255.6 267.8,255.2 268.3,254.7 268.8,254.3 269.3,253.8 269.8,253.2 270.3,252.7 270.8,252.1 271.3,251.5 271.8,250.8 272.3,250.2 272.8,249.5 273.3,248.7 273.8,248.0 274.3,247.2 274.8,246.4 275.3,245.6 275.8,244.8 276.3,243.9 276.8,243.1 277.3,242.4 277.8,241.7 278.3,240.9 278.8,240.2 279.3,239.4 279.8,238.6 280.3,237.6 280.8,236.7 281.3,235.7 281.8,234.6 282.3,233.4 282.8,232.1 283.3,230.8 283.8,229.5 284.3,228.3 284.8,227.1 285.3,225.9 285.8,224.8 286.3,223.6 286.8,222.6 287.3,221.6 287.8,220.7 288.3,219.8 288.8,219.0 289.3,218.2 289.8,217.3 290.3,216.4 290.8,215.5 291.3,214.7 291.8,213.8 292.3,213.0 292.8,212.3 293.3,211.5 293.8,210.9 294.3,210.2 294.8,209.6 295.3,209.0 295.8,208.5 296.3,207.9 296.8,207.4 297.3,206.9 297.8,206.5 298.3,206.1 298.8,205.8 299.3,205.5 299.8,205.2 300.3,204.9 300.8,204.6 301.3,204.4 301.8,204.2 302.3,204.1 302.8,204.0 303.3,204.0 303.8,204.0 304.3,204.0 304.8,204.1 305.3,204.1 305.8,204.1 306.3,204.2 306.8,204.2 307.3,204.3 307.8,204.4 308.3,204.7 308.8,204.9 309.3,205.3 309.8,205.6 310.3,206.0 310.8,206.3 311.3,206.7 311.8,207.0 312.3,207.4 312.8,207.7 313.3,208.1 313.8,208.6 314.3,209.0 314.8,209.4 315.3,209.9 315.8,210.3 316.3,210.8 316.8,211.2 317.3,211.7 317.8,212.1 318.3,212.5 318.8,213.1 319.3,213.6 319.8,214.3 320.3,215.1 320.8,216.3 321.3,217.7 321.8,219.3 322.3,220.9 322.8,222.4 323.3,223.8 323.8,225.2 324.3,226.5 324.8,227.8 325.3,229.2 325.8,230.5 326.3,231.9 326.8,233.4 327.3,234.8 327.8,236.2 328.3,237.6 328.8,239.1 329.3,240.5 329.8,242.1 330.3,243.7 330.8,245.4 331.3,247.1 331.8,249.1 332.3,251.1 332.8,253.2 333.3,255.3 333.8,257.4 334.3,259.4 334.8,261.5 335.3,263.5 335.8,265.6 336.3,267.6 336.8,269.6 337.3,271.5 337.8,273.2 338.3,274.9 338.8,276.6 339.3,278.1 339.8,279.7 340.3,281.1 340.8,282.5 341.3,283.8 341.8,285.0 342.3,286.2 342.8,287.3 343.3,288.5 343.8,289.7 344.3,291.1 344.8,292.4 345.3,293.9 345.8,295.3 346.3,296.8 346.8,298.2 347.3,299.7 347.8,301.2 348.3,302.7 348.8,304.1 349.3,305.6 349.8,307.0 350.3,308.4 350.8,309.8 351.3,311.1 351.8,312.4 352.3,313.6 352.8,314.6 353.3,315.5 353.8,316.4 354.3,317.3 354.8,318.1 355.3,318.8 355.8,319.5 356.3,320.2 356.8,320.8 357.3,321.4 357.8,321.9 358.3,322.5 358.8,322.9 359.3,323.4 359.8,323.8 360.3,324.2 360.8,324.6 361.3,324.9 361.8,325.3 362.3,325.6 362.8,325.9 363.3,326.2 363.8,326.5 364.3,326.8 364.8,327.1 365.3,327.4 365.8,327.7 366.3,328.1 366.8,328.4 367.3,328.7 367.8,329.0 368.3,329.3 368.8,329.6 369.3,329.8 369.8,330.1 370.3,330.4 370.8,330.7 371.3,331.0 371.8,331.3 372.3,331.5 372.8,331.8 373.3,332.0 373.8,332.3 374.3,332.5 374.8,332.7 375.3,332.9 375.8,333.1 376.3,333.3 376.8,333.4 377.3,333.6 377.8,333.7 378.3,333.8 378.8,334.0 379.3,334.1 379.8,334.2 380.3,334.3 380.8,334.4 381.3,334.5 381.8,334.6 382.3,334.7 382.8,334.8 383.3,334.9 383.8,335.0 384.3,335.1 384.8,335.2 385.3,335.3 385.8,335.4 386.3,335.5 386.8,335.6 387.3,335.7 387.8,335.8 388.3,335.8 388.8,335.9 389.3,336.0 389.8,336.1 390.3,336.2 390.8,336.2 391.3,336.3 391.8,336.4 392.3,336.5 392.8,336.5 393.3,336.6 393.8,336.7" stroke="#f7c290"/>
</g>
<g stroke="#1a1a1a" stroke-width="1.5" fill="none">
<path d="M190.5,8 V347"/>
<path d="M195.5,347 V8"/>
<path d="M65,341.4 H190.5 M195.5,341.4 H398"/>
<path d="M111.3,341.5 V347"/>
<path d="M151.5,341.5 V347"/>
<path d="M235.5,341.5 V347"/>
<path d="M274.5,341.5 V347"/>
<path d="M313.5,341.5 V347"/>
<path d="M352.5,341.5 V347"/>
<path d="M65,341.5 H71"/>
<path d="M65,274.8 H71"/>
<path d="M65,208.1 H71"/>
<path d="M65,141.3 H71"/>
<path d="M65,74.6 H71"/>
<path d="M65,7.9 H71"/>
<path d="M392.9,341.5 H398.5"/>
<path d="M392.9,274.8 H398.5"/>
<path d="M392.9,208.1 H398.5"/>
<path d="M392.9,141.3 H398.5"/>
<path d="M392.9,74.6 H398.5"/>
<path d="M392.9,7.9 H398.5"/>
</g>
<path d="M65,7.9 H191.2 M194.8,7.9 H398.5" stroke="#404040" stroke-width="1.8"/>
<g font-size="17" fill="#111">
<text x="54.5" y="347.4" text-anchor="end">0</text>
<text x="54.5" y="280.7" text-anchor="end">0.5</text>
<text x="54.5" y="214.0" text-anchor="end">1.0</text>
<text x="54.5" y="147.2" text-anchor="end">1.5</text>
<text x="54.5" y="80.5" text-anchor="end">2.0</text>
<text x="54.5" y="13.8" text-anchor="end">2.5</text>
<text x="405.5" y="348.1">0</text>
<text x="406.0" y="281.4">0.2</text>
<text x="406.2" y="214.7">0.4</text>
<text x="406.0" y="147.9">0.6</text>
<text x="406.0" y="81.2">0.8</text>
<text x="404.6" y="14.5">1.0</text>
<text x="69.5" y="375.8" text-anchor="middle">200</text>
<text x="113.3" y="375.8" text-anchor="middle">250</text>
<text x="151.4" y="375.8" text-anchor="middle">300</text>
<text x="192" y="375.8" text-anchor="middle">350</text>
<text x="235.3" y="375.8" text-anchor="middle">400</text>
<text x="274.9" y="375.8" text-anchor="middle">450</text>
<text x="315" y="375.8" text-anchor="middle">500</text>
<text x="354.6" y="375.8" text-anchor="middle">550</text>
<text x="393.8" y="374.3" text-anchor="middle">600</text>
</g>
<g font-size="17" font-weight="bold" fill="#111">
<text x="146.8" y="402.7">Wavelength [nm]</text>
<text transform="translate(14,245.8) rotate(-90)">Absorbance [a.u.]</text>
<text transform="translate(456,244.8) rotate(-90)">Absorbance [a.u.]</text>
</g>
<rect x="138" y="85.1" width="113.5" height="46.2" fill="#fff" stroke="#6a6a6a" stroke-width="1.7"/>
<g font-size="17" font-weight="bold" fill="#111">
<text x="154.6" y="104">number of</text>
<text x="171.4" y="122.7">pulses</text>
</g>
<g fill="#111" stroke="none">
<rect x="129" y="73" width="2" height="92"/>
<path d="M129.8,63.3 L135.6,74.6 L124,74.6 Z"/>
<rect x="260" y="65" width="2" height="91.5"/>
<path d="M260.8,167.3 L266.7,155.7 L254.9,155.7 Z"/>
</g>
</svg>
</body></html>
